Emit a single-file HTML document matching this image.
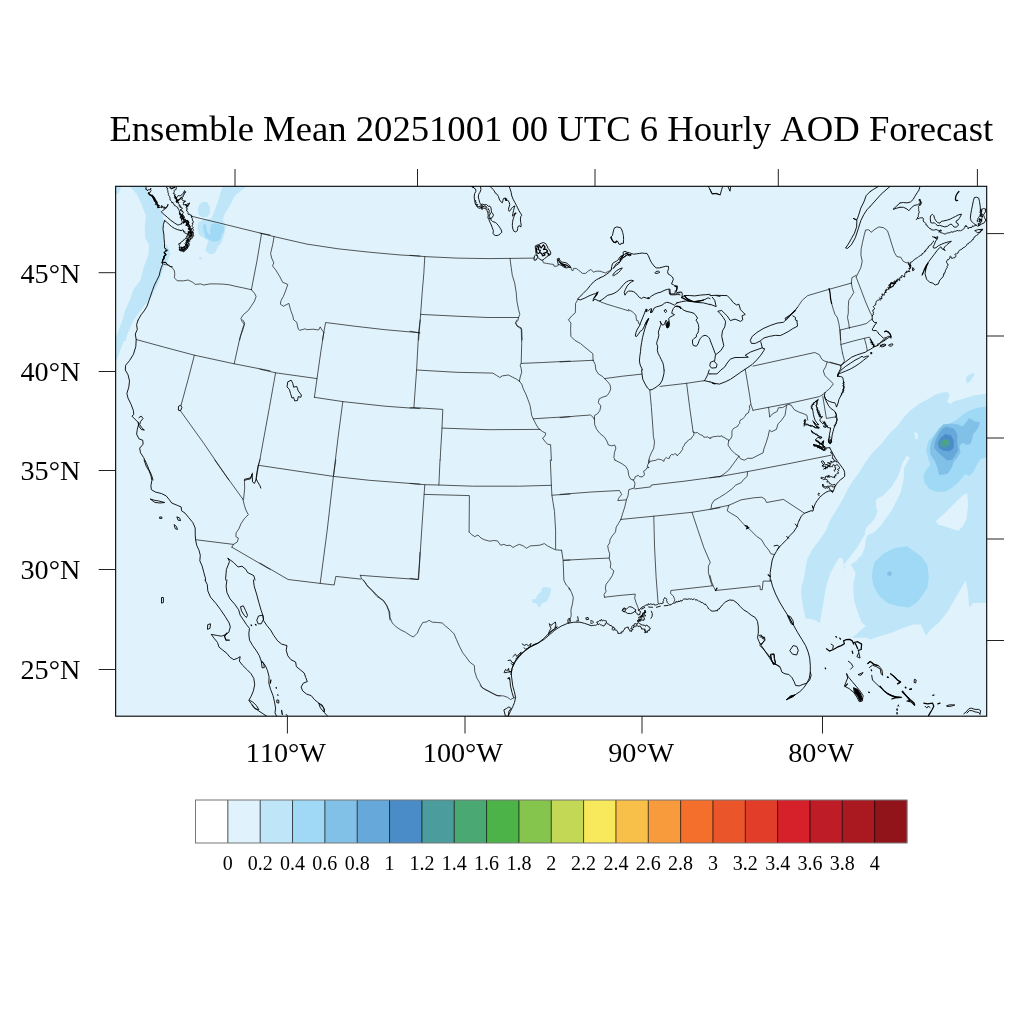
<!DOCTYPE html>
<html><head><meta charset="utf-8"><title>Ensemble Mean AOD Forecast</title>
<style>
html,body{margin:0;padding:0;background:#fff;}
body{width:1024px;height:1024px;overflow:hidden;font-family:"Liberation Serif",serif;}
svg{display:block;position:absolute;left:0;top:0;will-change:transform;}
text{font-family:"Liberation Serif",serif;fill:#000;font-kerning:none;font-variant-ligatures:none;}
.title{font-size:36.67px;}
.tl{font-size:28.2px;}
.cl{font-size:20px;text-anchor:middle;}
.tk line{stroke:#222;stroke-width:1;}
.st{fill:none;stroke:#111;stroke-width:0.7;stroke-linejoin:round;stroke-linecap:round;}
.co{fill:none;stroke:#000;stroke-width:0.9;stroke-linejoin:round;stroke-linecap:round;}
</style></head><body>
<svg width="1024" height="1024" viewBox="0 0 1024 1024">
<rect x="0" y="0" width="1024" height="1024" fill="#fff"/>
<text x="109.4" y="141.3" class="title">Ensemble Mean 20251001 00 UTC 6 Hourly AOD Forecast</text>
<defs><clipPath id="fr"><rect x="115.5" y="186" width="871.3" height="530.2"/></clipPath></defs>
<rect x="115.5" y="186" width="871.3" height="530.2" fill="#E0F3FC"/>
<g clip-path="url(#fr)">
<g id="aod">
<path d="M129.5,186.2 L136.6,194.1 L141.2,203.4 L145.9,215.9 L144.7,226.9 L145.2,237.8 L149.1,245.6 L148.3,255.0 L143.6,267.5 L140.5,280.0 L133.4,289.4 L130.3,298.8 L124.8,311.2 L121.7,323.8 L117.8,336.2 L117.0,340.9 L125.6,340.9 L127.2,334.7 L133.4,320.6 L143.6,306.6 L152.2,295.6 L158.4,283.1 L161.6,273.8 L164.7,265.2 L167.8,261.2 L170.2,253.4 L168.6,247.2 L164.7,242.5 L163.1,231.6 L163.9,220.6 L161.6,211.2 L155.3,203.4 L149.1,194.1 L145.9,186.2Z" fill="#BEE6F8"/>
<path d="M115.5,186.2 L120.2,186.2 L120.6,189.4 L118.6,193.3 L115.5,194.1Z" fill="#BEE6F8"/>
<path d="M199.1,205.0 L202.2,201.9 L206.9,201.9 L209.7,206.6 L210.0,212.8 L207.7,216.7 L203.0,217.5 L199.1,215.2 L197.8,210.5Z" fill="#BEE6F8"/>
<path d="M211.6,218.3 L217.8,201.9 L222.5,186.2 L246.7,186.2 L235.0,195.6 L230.3,205.0 L224.8,213.6 L222.8,219.8Z" fill="#BEE6F8"/>
<path d="M198.3,222.2 L203.8,219.8 L211.6,218.3 L222.8,219.8 L225.9,226.9 L224.1,234.7 L221.7,242.5 L217.8,247.2 L214.7,253.4 L210.0,254.2 L205.3,251.1 L206.9,245.6 L208.4,240.9 L203.8,237.8 L199.1,234.7 L197.2,228.4Z" fill="#BEE6F8"/>
<path d="M199.1,256.9 L201.4,256.9 L201.9,259.4 L199.4,259.7Z" fill="#BEE6F8"/>
<path d="M212.2,223.8 L215.4,223.6 L219.3,224.3 L223.7,226.2 L224.2,229.2 L223.7,232.1 L221.7,234.1 L221.2,237.5 L219.3,240.4 L215.4,241.4 L211.5,241.4 L208.6,238.9 L205.6,237.5 L204.6,234.1 L203.7,231.1 L203.1,228.2 L203.4,224.8 L205.6,224.1 L206.4,226.7 L206.6,230.2 L208.1,233.6 L209.5,234.8 L210.8,234.1 L210.0,231.1 L210.3,228.2 L211.0,225.3Z" fill="#9FD9F5"/>
<path d="M123.3,318.4 L132.7,318.4 L128.8,329.4 L124.1,340.3 L119.4,352.8 L116.6,360.6 L115.6,360.6 L115.6,338.8 L119.4,327.8Z" fill="#BEE6F8"/>
<path d="M542.2,587.7 L545.3,587.0 L550.8,588.1 L550.8,592.0 L549.2,596.7 L546.9,601.4 L541.4,603.4 L540.6,606.9 L538.3,606.9 L536.7,603.4 L532.4,602.6 L532.0,599.5 L535.9,598.7 L537.5,594.8 L541.4,591.6Z" fill="#BEE6F8"/>
<path d="M988.4,393.3 L973.4,395.4 L962.6,399.1 L954.0,401.2 L950.8,404.0 L947.1,401.9 L949.7,395.4 L948.2,392.2 L943.3,392.2 L934.7,394.8 L928.2,399.1 L919.6,403.4 L911.1,409.8 L904.6,416.3 L898.2,424.9 L889.6,433.5 L881.0,444.2 L872.4,452.8 L865.9,461.4 L859.5,472.1 L853.0,480.7 L847.7,489.3 L842.3,500.1 L835.9,510.8 L830.5,519.4 L826.2,530.2 L818.7,540.9 L812.2,549.5 L807.9,558.1 L988.4,558.1Z" fill="#BEE6F8"/>
<path d="M966.9,376.1 L973.4,372.5 L974.4,375.0 L970.1,381.5 L966.9,383.6 L965.8,379.3Z" fill="#BEE6F8"/>
<path d="M935.8,521.1 L943.3,514.7 L951.9,506.1 L962.6,495.4 L967.3,493.2 L968.0,506.1 L966.5,519.0 L962.6,526.5 L958.3,530.8 L951.9,528.7 L943.3,525.9 L937.9,524.4Z" fill="#E0F3FC"/>
<path d="M906.8,455.6 L910.0,457.8 L906.8,463.1 L904.2,467.4 L903.5,480.3 L900.3,493.2 L896.0,501.8 L891.7,510.4 L885.3,519.0 L881.0,525.4 L874.5,531.9 L868.1,535.1 L864.9,531.9 L870.2,525.4 L877.8,520.1 L879.9,513.6 L876.2,508.2 L876.0,499.6 L883.1,495.4 L891.7,486.8 L898.2,476.0 L902.5,463.1Z" fill="#E0F3FC"/>
<path d="M865.9,538.3 L864.9,546.9 L861.6,555.5 L855.2,566.2 L850.9,569.5 L846.6,569.5 L848.8,562.0 L853.0,553.4 L859.5,544.8 L862.7,538.3Z" fill="#E0F3FC"/>
<path d="M914.3,432.6 L917.5,433.0 L917.9,438.4 L915.4,439.5Z" fill="#E0F3FC"/>
<path d="M988.4,406.2 L977.7,407.7 L969.1,410.5 L962.6,414.8 L956.2,420.2 L949.7,423.4 L943.3,424.5 L939.0,428.8 L933.6,435.2 L928.2,441.6 L926.1,450.2 L928.2,458.8 L930.4,465.3 L926.1,469.6 L923.5,476.0 L924.4,482.5 L929.3,488.9 L936.8,492.1 L945.4,491.5 L951.9,487.8 L958.3,482.5 L962.6,477.1 L965.2,473.9 L969.1,476.0 L973.4,471.7 L976.6,465.3 L980.9,458.8 L988.4,457.1Z" fill="#9FD9F5"/>
<path d="M943.3,424.5 L951.9,423.4 L958.3,424.5 L962.6,426.6 L966.9,421.2 L969.1,418.0 L974.4,421.2 L980.2,422.3 L977.7,428.8 L973.4,434.1 L970.8,443.8 L966.9,444.9 L962.6,442.7 L959.4,445.9 L960.5,452.4 L957.2,457.8 L953.6,462.1 L951.9,467.4 L947.6,473.9 L939.0,474.9 L937.3,467.4 L934.7,461.0 L930.4,454.5 L930.0,448.1 L931.5,441.6 L935.8,434.1 L939.0,428.8Z" fill="#82C1E7"/>
<path d="M946.5,426.6 L954.0,428.8 L957.2,434.1 L957.2,442.7 L958.3,450.2 L955.1,455.6 L951.9,459.9 L947.1,460.5 L942.9,456.7 L937.9,452.4 L934.3,448.1 L935.1,441.6 L938.6,434.1 L942.2,428.8Z" fill="#67A8DB"/>
<path d="M945.4,434.1 L950.8,435.2 L953.6,440.6 L953.6,448.1 L949.7,451.3 L943.7,450.7 L939.0,448.1 L937.9,442.7 L940.7,437.8Z" fill="#4A8CC8"/>
<path d="M941.6,439.9 L946.5,439.1 L950.2,441.2 L949.7,444.9 L945.4,447.7 L940.7,447.0 L939.4,443.4Z" fill="#4B9C9C"/>
<path d="M944.4,439.9 L947.6,440.6 L948.0,443.4 L945.0,444.2 L943.3,442.5Z" fill="#4AA873"/>
<path d="M807.9,556.9 L806.2,564.5 L803.6,579.9 L801.5,585.9 L801.1,594.5 L803.2,607.4 L805.4,618.2 L815.4,619.9 L819.7,622.9 L821.9,611.7 L824.0,598.8 L826.2,585.9 L830.5,573.0 L836.3,562.3 L840.2,556.3 L842.7,559.1 L844.5,569.2 L850.9,564.5 L855.6,573.0 L853.0,585.9 L854.1,601.0 L858.4,613.9 L861.6,622.5 L865.9,625.7 L852.0,637.9 L865.9,637.5 L870.2,639.6 L878.8,636.4 L893.9,632.1 L900.3,628.9 L913.2,624.6 L920.7,624.6 L926.1,635.4 L930.4,630.0 L939.0,622.5 L947.6,611.7 L956.2,596.7 L962.6,585.9 L965.8,580.6 L968.0,592.4 L969.1,607.4 L973.4,603.1 L977.7,603.1 L988.4,602.7 L988.4,556.3Z" fill="#BEE6F8"/>
<path d="M876.7,498.9 L897.1,498.9 L887.4,512.9 L881.0,521.5 L874.5,527.9 L868.1,534.4 L864.9,540.8 L862.7,549.4 L857.3,560.2 L850.9,564.5 L845.5,569.2 L844.0,564.5 L850.9,555.9 L857.3,547.3 L861.6,539.7 L864.9,534.4 L865.9,527.9 L874.5,519.3 L877.8,510.7Z" fill="#E0F3FC"/>
<path d="M872.4,570.9 L874.5,562.3 L883.1,553.7 L893.9,548.3 L906.8,546.2 L914.3,551.6 L921.8,556.9 L927.2,564.5 L928.9,577.3 L927.2,588.1 L922.9,594.5 L917.5,602.1 L908.9,607.4 L898.2,606.3 L887.4,603.1 L878.8,595.6 L873.5,585.9 L872.0,577.3Z" fill="#9FD9F5"/>
<path d="M887.4,572.0 L890.6,570.9 L892.1,574.1 L890.0,576.3 L887.4,575.2Z" fill="#82C1E7"/>
</g>
<g id="states" class="st">
<path d="M191.2,216.2 219.4,223.0 242.8,228.8 261.6,233.4 270.0,235.0"/>
<path d="M261.6,233.4 256.9,261.2 251.4,289.7"/>
<path d="M163.9,264.4 168.6,265.2 171.7,267.5 174.1,269.8 174.8,273.8 174.4,277.7 177.2,280.8 183.4,280.8 188.1,280.0 192.8,282.3 195.2,284.4 200.6,283.9 203.8,285.0 210.0,283.9 216.2,283.9 222.5,284.1 228.8,284.7 235.0,286.2 242.8,287.8 251.4,289.7"/>
<path d="M251.4,289.7 254.5,293.3 256.1,296.4 254.5,301.1 251.4,305.8 248.3,310.5 243.6,314.4 240.9,318.3 242.0,321.4 244.4,324.5 242.8,330.0 240.5,336.2 239.7,340.0"/>
<path d="M260.0,233.1 274.1,236.6 306.9,244.1 338.1,248.8 369.4,252.2 400.6,255.0 420.0,256.1"/>
<path d="M274.1,236.6 272.8,244.1 270.6,253.4 271.7,258.1 273.8,262.8 272.5,265.9 275.6,269.8 279.5,276.1 282.7,282.3 287.8,284.4 285.8,290.2 283.4,296.4 281.1,300.3 280.3,304.2 283.4,306.2 288.9,303.4 290.5,309.7 292.8,315.9 293.6,319.8 296.7,322.2 298.3,329.2 299.8,330.3 305.3,328.8 306.9,329.7 313.1,329.2 318.6,330.0 320.2,326.9 322.5,330.8 323.8,332.3"/>
<path d="M420.0,332.8 385.0,329.7 353.8,326.1 325.6,322.5 323.8,332.3 322.5,340.0"/>
<path d="M410.0,255.3 424.8,256.6 456.9,258.1 488.1,258.6 510.0,258.4 534.2,258.1"/>
<path d="M424.8,256.6 423.8,273.8 422.2,292.5 420.6,314.4 419.4,330.0 418.6,340.0"/>
<path d="M420.6,314.4 456.9,316.2 488.1,317.5 518.6,317.5"/>
<path d="M510.0,258.4 511.2,267.5 512.3,275.3 514.7,283.1 516.2,292.5 517.0,301.9 518.6,309.7 519.8,314.4 518.6,317.5 517.8,320.6 515.5,323.0 517.0,326.1 519.4,327.7 521.7,329.2 522.2,340.0"/>
<path d="M410.0,331.2 418.9,332.8"/>
<path d="M600.6,271.4 605.3,273.0 610.0,270.6 611.9,269.1"/>
<path d="M600.0,301.1 600.6,301.9 606.9,304.2 614.7,306.6 622.5,308.9 628.8,310.9"/>
<path d="M577.5,300.0 575.6,303.4 575.3,312.8 571.7,315.9 568.6,319.8"/>
<path d="M797.5,307.3 802.2,300.3 807.7,295.6 828.8,289.4 851.4,283.1"/>
<path d="M831.6,303.4 833.4,309.7 835.0,314.4 837.3,317.5 838.9,323.8 840.0,330.8 840.5,340.0"/>
<path d="M851.4,283.1 852.2,287.8 853.8,292.5 851.4,296.4 848.8,300.3 848.3,306.6 848.3,312.8 847.5,317.5 848.8,323.8 849.4,328.4"/>
<path d="M851.4,283.1 851.9,277.7 856.1,275.3"/>
<path d="M856.2,276.9 858.6,272.2 860.9,267.5 862.2,261.2 860.9,255.0 861.2,248.8 862.5,242.5 864.1,235.5 865.6,230.0 868.8,229.7 871.1,232.3 875.0,229.2 878.9,226.9 883.6,227.7 887.5,230.8 889.8,237.8 892.2,245.6 894.5,252.7 896.9,256.6 900.8,257.3 903.1,261.2 906.2,262.8 908.6,262.0 910.2,265.2"/>
<path d="M856.2,277.2 860.9,289.4 865.6,301.9 870.3,312.8 872.0,315.6"/>
<path d="M136.2,339.5 164.7,347.3 194.4,355.2 234.2,363.8 270.0,370.8"/>
<path d="M194.4,355.2 188.1,379.4 181.1,405.2"/>
<path d="M180.3,410.6 203.8,443.4 228.8,480.0"/>
<path d="M242.8,320.0 244.7,323.1 242.8,327.8 239.7,338.8 234.2,363.8"/>
<path d="M260.0,459.1 258.4,465.3 256.1,480.0"/>
<path d="M323.8,332.5 320.9,351.2 317.0,378.6 314.4,397.3"/>
<path d="M260.0,369.2 275.6,372.8 317.0,378.6"/>
<path d="M275.6,372.8 269.4,407.5 263.1,441.9 260.0,459.1"/>
<path d="M314.4,397.3 342.8,401.6 385.0,406.2 413.9,408.3 420.0,408.6"/>
<path d="M342.8,401.6 338.1,437.2 333.4,476.2"/>
<path d="M420.2,320.0 418.6,332.5 416.6,370.0 413.9,407.5"/>
<path d="M416.6,370.0 456.9,372.3 492.8,373.1 496.7,375.5 499.8,377.5 502.2,375.9 508.4,375.0 512.3,377.0 517.0,379.4 519.4,381.2"/>
<path d="M517.0,320.0 515.5,322.8 517.8,326.2 521.2,327.8 521.7,343.4 521.2,363.4 520.2,365.3 521.2,368.4 521.7,372.3 520.2,377.0 519.4,381.2"/>
<path d="M521.2,363.4 542.8,362.5 570.0,361.1"/>
<path d="M519.4,381.2 521.7,384.1 523.3,388.8 525.9,394.2 528.0,399.7 530.0,405.2 531.1,411.4 531.6,415.3 533.4,419.2 535.8,423.9 538.1,427.8 539.7,429.4"/>
<path d="M533.4,418.8 550.6,417.7 570.0,416.6"/>
<path d="M442.0,428.1 488.1,429.7 539.7,429.4"/>
<path d="M539.7,429.4 542.8,431.7 545.9,433.3 544.7,436.4 542.5,438.0 544.7,441.1 547.5,444.2 550.6,444.7 551.4,460.6"/>
<path d="M410.0,407.8 413.9,407.5 442.8,409.4 442.0,428.1 440.5,452.8 440.2,460.0"/>
<path d="M568.6,320.0 570.9,323.1 570.6,329.4 570.9,336.4 574.8,340.3 580.3,343.4 585.0,347.3 588.9,350.5 592.8,353.6 593.1,360.3"/>
<path d="M560.0,361.9 593.1,360.3"/>
<path d="M593.1,360.3 595.2,364.5 595.9,370.0 598.3,373.9 602.2,376.2 604.5,378.6 607.7,381.7 610.0,384.8 610.8,388.8 609.2,392.7 606.9,395.8 602.2,397.3 599.1,398.9 598.3,402.8 600.9,405.9 599.8,410.6 597.5,413.8 594.7,415.3 594.4,419.2"/>
<path d="M604.5,378.6 622.5,376.2 642.0,374.1"/>
<path d="M560.0,417.7 575.6,416.1 590.5,415.0 592.8,416.9 594.4,419.2"/>
<path d="M594.4,419.2 594.7,424.7 596.7,429.4 599.8,433.3 604.5,437.2 606.9,441.1 608.4,445.0 611.6,445.8 614.7,445.0 615.9,448.1 614.4,452.8 613.9,457.5 615.0,460.0"/>
<path d="M649.8,390.0 651.4,407.5 653.0,429.4 653.4,436.4 654.5,441.9 653.8,448.1 651.4,452.8 649.4,457.5 648.8,463.0"/>
<path d="M660.0,386.4 686.6,383.3 704.5,380.6"/>
<path d="M686.6,383.3 689.7,407.5 693.1,431.7"/>
<path d="M648.8,463.0 649.8,461.4 651.8,461.0 653.8,460.6 655.9,460.3 657.7,459.1 659.6,459.4 661.6,459.8 663.9,461.4 664.4,459.1 666.2,457.5 667.7,458.4 669.4,458.3 670.0,456.0 671.7,454.4 673.5,454.8 674.8,453.6 676.4,454.4 677.2,455.9 678.5,454.2 680.3,452.8 681.3,451.1 682.6,449.5 682.7,447.3 684.1,445.6 685.0,443.4 686.5,442.6 687.3,441.1 689.2,439.7 691.2,438.8 692.1,436.9 693.6,435.6 694.0,433.6 693.1,431.7 695.2,432.8 697.5,432.5 698.9,433.9 700.6,434.8 702.6,435.4 703.8,437.2 705.7,437.2 707.7,436.9 709.1,437.9 710.8,438.4"/>
<path d="M753.0,366.1 814.7,352.5 819.4,354.7 821.7,359.1 824.1,360.9 827.2,361.9 840.5,365.3"/>
<path d="M745.2,369.2 747.5,382.5 749.8,396.6 750.9,404.4 753.0,410.3"/>
<path d="M753.0,410.3 788.1,403.6 819.4,396.6 822.8,394.7"/>
<path d="M750.9,404.4 749.2,406.0 749.8,408.3 749.0,410.6 748.3,413.0 746.2,414.0 745.2,416.2 743.6,417.7 742.4,419.1 740.6,419.8 739.7,421.6 739.7,423.4 738.4,424.7 737.8,426.2 735.6,427.4 733.4,428.6 732.0,430.7 731.9,433.3 732.0,435.7 731.1,438.0 730.2,439.4 728.8,440.3"/>
<path d="M768.6,407.5 769.7,417.2 772.5,413.8 777.2,411.4 778.4,407.8 782.7,407.5 786.6,405.2 788.9,404.4 791.2,405.2 794.4,409.8 799.1,412.2 803.8,413.8 806.9,415.3 807.7,420.0"/>
<path d="M786.6,405.2 785.8,410.3 785.0,415.3 781.1,420.8 778.0,423.9 776.4,429.4 771.7,431.7 769.4,430.2 768.1,436.4 765.9,443.4 763.9,448.9 763.1,452.8 756.9,455.9 752.2,458.3 747.5,458.3 744.4,460.2 740.5,458.8 738.9,456.2"/>
<path d="M728.8,440.3 728.0,445.0 731.1,449.7 735.0,453.6 738.9,456.2"/>
<path d="M738.9,456.2 733.4,463.8 728.8,470.0 724.1,473.9 719.4,477.0"/>
<path d="M710.0,477.8 719.4,476.6 747.5,471.6 788.1,463.8 831.1,455.2"/>
<path d="M710.0,438.0 712.0,437.1 714.1,436.6 716.2,436.4 718.1,436.1 720.0,436.5 721.7,435.6 722.7,437.1 724.6,437.3 725.6,438.8 727.4,439.2 728.8,440.3"/>
<path d="M827.2,361.9 825.6,366.9 823.3,370.8 824.8,375.5 828.8,379.4 833.4,383.8 829.5,388.8 825.6,391.9 822.8,394.7"/>
<path d="M822.8,396.6 826.4,418.4 835.8,416.9"/>
<path d="M849.5,327.7 861.2,325.0 866.7,323.4 869.8,320.7 872.2,319.1"/>
<path d="M840.9,344.5 853.4,341.0 864.4,338.3 869.5,337.1 870.6,339.1"/>
<path d="M864.4,338.3 866.3,345.3 867.3,350.8"/>
<path d="M842.5,353.1 844.5,360.9 842.9,363.3 840.9,365.2"/>
<path d="M830.0,362.1 840.5,365.2"/>
<path d="M214.7,460.0 242.8,499.1"/>
<path d="M242.8,499.1 244.4,505.3 245.9,510.0 248.3,514.7 244.4,518.6 241.2,523.3 238.9,528.8 236.2,532.7 235.8,536.6 238.4,538.1 237.3,542.0 233.4,544.4 231.9,547.2"/>
<path d="M260.0,460.0 258.4,465.0"/>
<path d="M244.4,480.3 244.7,488.1 243.6,499.1"/>
<path d="M195.6,539.7 233.4,544.4"/>
<path d="M231.9,547.2 270.0,569.4"/>
<path d="M258.4,465.2 260.0,465.5 291.2,470.2 333.4,476.4 369.4,480.3 420.0,484.2"/>
<path d="M335.8,460.0 333.4,476.4 327.2,530.3 320.2,583.4"/>
<path d="M260.0,563.1 288.1,579.5 320.2,583.4 334.2,585.0 335.8,576.4 360.8,579.1"/>
<path d="M360.3,575.3 385.0,577.2 418.6,579.5 420.0,552.2"/>
<path d="M360.3,575.3 361.6,578.8 365.5,582.7 367.0,585.8 372.5,591.2 377.2,596.7 383.4,600.6 386.6,605.3 388.9,611.6 390.0,620.0"/>
<path d="M440.0,460.0 438.9,485.0"/>
<path d="M410.0,483.4 424.8,484.7 438.9,485.0 472.5,486.2 519.4,486.2 551.4,485.3"/>
<path d="M550.3,460.0 551.4,485.3 551.9,495.2 554.5,511.6 555.6,530.3 555.6,549.1"/>
<path d="M551.9,495.2 570.0,494.1"/>
<path d="M424.8,484.7 424.1,494.4 469.4,495.6 469.1,531.9"/>
<path d="M424.1,494.4 421.7,530.3 419.7,561.6 418.1,579.5 410.0,578.4"/>
<path d="M469.1,531.9 471.7,534.7 474.8,536.6 478.0,535.0 481.1,538.1 484.2,539.7 489.7,541.2 493.6,540.5 497.5,540.9 500.6,545.2 503.8,544.4 506.9,545.6 510.0,545.2 513.1,547.5 516.2,545.6 519.4,544.4 523.3,545.9 526.4,548.3 530.3,545.9 535.0,545.6 539.7,545.2 544.4,543.6 547.5,545.9 552.2,548.3 555.6,549.8 561.6,550.3"/>
<path d="M561.6,550.3 563.1,560.0 563.9,580.3 566.2,585.0 568.6,587.3 569.4,589.7"/>
<path d="M563.4,560.3 570.0,560.0"/>
<path d="M614.7,460.0 620.9,463.1 625.6,466.2 628.0,470.2 628.8,475.6 630.6,479.1 633.4,480.0"/>
<path d="M648.8,460.0 648.9,462.5 647.8,464.7 647.1,466.7 649.1,467.5 646.9,467.8 645.9,469.7 643.6,471.2 644.1,473.0 644.4,474.8 643.4,476.1 642.0,476.9 639.8,476.7 638.1,475.3 636.6,476.2 635.0,476.9 634.7,478.7 633.4,480.0"/>
<path d="M633.4,480.0 635.0,483.4 634.2,488.1 631.1,488.9 628.8,489.7 628.0,495.9 626.4,499.8 624.8,506.9 622.5,513.9 620.9,519.4"/>
<path d="M634.7,488.9 650.6,486.9 651.4,485.0 685.0,481.1 720.0,476.4"/>
<path d="M560.0,494.4 591.2,492.0 619.4,490.5 621.7,494.4 618.6,498.3 617.8,500.6 626.4,499.8"/>
<path d="M620.9,519.4 653.8,516.2 692.0,512.3 720.0,507.7"/>
<path d="M620.9,519.4 618.6,523.3 616.2,527.2 615.5,531.9 612.3,535.8 610.0,539.7 609.7,542.8 607.7,545.9 608.4,549.8 609.7,553.8 609.2,558.4 610.8,563.1 610.3,567.8 613.9,570.9 612.3,575.6 609.2,580.3 606.1,584.2 605.3,588.1 606.1,591.2 604.1,594.4 604.5,597.2"/>
<path d="M563.9,560.3 591.2,558.8 609.2,558.1"/>
<path d="M569.4,588.1 571.7,592.8 573.3,597.5 572.5,603.8 570.9,610.0 571.2,616.2 569.4,620.0 570.3,621.2"/>
<path d="M604.5,597.2 622.5,595.2 635.3,594.1 634.7,598.3 636.2,603.0 638.1,607.7 638.9,610.0"/>
<path d="M653.8,516.2 654.5,545.9 656.1,577.2 658.1,603.0"/>
<path d="M692.0,512.3 697.5,528.8 703.8,547.5 709.2,560.0 710.3,562.3 708.4,566.2 708.4,572.5 710.8,581.9 712.3,585.8"/>
<path d="M712.3,585.8 670.9,590.5 670.6,593.6 673.3,595.9 674.8,599.8 673.8,602.2"/>
<path d="M747.5,471.7 747.2,476.4 743.6,479.5 741.2,482.7 735.8,485.0 731.9,488.9 725.6,493.6 719.4,497.5 713.9,500.6 711.6,504.5 711.2,507.7"/>
<path d="M710.0,509.2 728.8,505.3 741.2,499.8 753.8,497.8 761.6,497.2 764.7,498.8 766.6,502.5 783.4,499.4 803.8,512.8"/>
<path d="M728.8,505.3 727.2,510.8 731.9,513.9 737.3,517.0 741.2,521.7 745.2,525.6 748.3,528.0 752.2,531.9 756.9,536.6 761.6,539.7 764.7,545.2 768.6,549.8 770.9,553.8 774.1,554.5"/>
<path d="M710.0,575.6 711.6,581.9 713.9,587.3 715.5,590.5 760.0,585.8 760.3,589.7 762.3,589.7 763.1,581.1 770.2,581.1"/>
<path d="M363.4,580.0 366.6,584.7 371.2,589.4 377.5,595.6 383.8,601.1 386.9,605.8 389.7,612.0 390.0,617.5 392.3,623.0 396.2,626.9 400.9,630.0 405.6,632.3 410.3,635.5 413.4,637.0 417.3,633.1 419.7,627.7 422.8,622.5 426.7,621.9 429.1,620.3 432.2,622.2 437.7,622.5 442.3,623.0 445.5,626.1 449.4,629.2 454.1,633.9 456.4,639.4 459.5,646.4 462.7,652.7 465.8,656.6 469.7,662.0 474.4,665.6 474.7,671.4 476.7,677.7 479.8,683.1 482.2,687.8 488.4,690.9 493.9,694.1 497.0,695.6 500.0,695.9"/>
<path d="M480.0,685.5 484.7,689.4 490.9,692.5 497.2,695.6 503.4,695.9 507.3,697.2 510.5,699.5 513.6,698.0 515.2,697.5"/>
<path d="M542.7,260.5 543.4,262.8 546.6,263.4 550.1,264.0 553.6,264.4 554.0,266.3 557.5,266.1 558.3,264.4"/>
<path d="M570.8,267.5 571.6,270.2 573.1,270.6 573.5,268.4 576.2,268.4 578.6,270.2 582.5,273.4 585.6,273.4 588.8,270.6 591.1,269.5 593.4,272.2 596.2,271.2 600.0,271.2"/>
<path d="M628.4,309.5 630.0,310.5 632.3,311.5 633.9,313.4 635.9,315.0 636.2,318.1 636.6,320.5 638.2,320.9 638.6,323.6 640.2,324.4"/>
</g>
<g id="coast" class="co">
<path d="M716.2,295.6 720.0,296.4"/>
<path d="M712.3,297.2 714.7,300.3 716.2,306.6 710.0,304.2"/>
<path d="M708.4,186.6 710.8,190.9 712.3,194.1 716.2,193.3 720.0,194.8"/>
<path d="M710.0,189.4 711.6,193.3 716.2,193.8 720.2,194.8 721.7,189.4 722.5,187.0"/>
<path d="M728.0,186.6 730.0,191.2 730.6,187.0"/>
<path d="M870.0,191.7 866.2,195.6 863.9,201.9 860.8,208.1 858.4,215.9 856.9,219.8 853.0,218.3 856.9,220.3 856.6,226.9 854.5,233.1 851.4,238.6 848.3,244.1 845.6,248.0 847.5,248.4 851.4,244.8 855.3,237.8 858.4,228.4 860.8,220.6 863.9,214.4 867.0,209.7 870.0,206.6"/>
<path d="M710.0,295.6 716.2,295.3 727.2,295.6 730.3,298.8 733.4,302.7 736.6,305.0 738.9,304.2 740.5,309.7 745.2,314.4 742.0,315.9 742.8,319.8 740.5,321.4 735.0,319.1 730.3,320.6 727.2,315.9 724.8,313.6 721.7,310.5 717.8,311.2 720.2,313.6 723.3,317.5 725.6,321.4 724.8,326.9 722.5,330.8 721.7,336.2 722.5,340.0"/>
<path d="M785.8,320.0 785.0,318.3 789.7,315.2 794.4,311.2 797.5,307.3"/>
<path d="M796.9,320.6 795.2,319.8 795.6,317.5 792.8,315.9"/>
<path d="M829.1,288.6 830.0,292.5 830.6,298.8 831.6,303.4" stroke-width="1.25"/>
<path d="M786.6,319.1 791.2,314.4 795.2,310.5" stroke-width="1.25"/>
<path d="M878.1,186.6 873.4,189.4 870.0,191.7"/>
<path d="M889.8,186.6 881.2,194.1 870.0,206.6"/>
<path d="M910.2,265.2 911.3,265.9 909.7,266.7 910.2,267.5 910.3,268.5 908.8,268.5 909.5,269.7 908.8,270.3 909.9,271.7 907.8,271.4 906.5,271.0 907.0,272.9 905.5,272.3 905.2,273.2 904.7,273.8 904.9,275.0 904.5,275.7 904.8,277.0 901.6,275.5 901.0,276.1 901.6,277.7 900.8,277.8 899.8,277.6 899.5,278.6 899.8,280.6 897.8,278.7 897.7,280.0 897.7,281.1 897.2,281.6 896.1,281.6 894.4,280.9 895.8,283.4 894.5,283.1 894.0,281.8 893.0,282.6 892.2,282.6 891.4,282.3 890.9,282.9 890.7,283.7 889.8,284.0 890.0,285.0 888.6,285.1 889.1,286.2 890.6,288.0 887.8,287.6 889.1,289.2 887.5,289.4 886.0,289.2 886.8,290.9 885.0,290.6 886.2,292.6 884.6,292.4 884.4,293.3 884.3,294.3 884.3,295.2 881.9,293.9 882.7,295.8 882.1,296.2 881.2,296.4 882.1,298.7 881.0,298.6 879.4,298.0"/>
<path d="M896.9,280.0 894.5,283.9 890.9,283.1 889.8,287.8 893.0,286.2 895.3,282.3" stroke-width="1.25"/>
<path d="M900.0,203.0 896.9,205.8 893.0,209.4 896.9,208.1 900.0,207.3"/>
<path d="M922.3,274.1 922.2,275.3 924.2,270.6 926.6,265.2 925.0,273.8 926.6,279.2 929.7,282.3 932.8,283.1 935.2,285.0 938.3,283.9 939.8,280.0 943.0,276.9 943.9,274.1"/>
<path d="M138.1,320.0 136.6,324.7 137.3,329.4 135.3,334.1 136.2,339.5 135.8,346.6 133.4,354.4 129.5,360.6 125.6,365.3 125.3,370.0 128.0,374.7 129.5,380.9 128.8,387.2 126.9,393.4 128.0,398.1 131.1,404.4 133.4,410.6 133.8,414.5 131.9,416.1 135.8,420.0 138.9,423.1 137.3,429.4 136.6,434.1 138.9,438.8 142.8,440.3 143.1,444.2 139.7,448.1 140.5,452.8 143.6,457.5 146.7,463.8 149.1,470.0 151.4,474.7 153.0,480.0"/>
<path d="M138.9,417.7 141.2,416.1 143.1,418.4 140.5,421.6 139.7,424.7 142.0,427.8 144.4,430.2 141.2,429.4 138.9,426.2 138.1,422.3"/>
<path d="M178.8,406.2 180.6,405.2 181.9,407.5 180.6,410.6 178.8,410.3Z"/>
<path d="M244.4,479.4 250.6,477.8 252.5,473.1"/>
<path d="M288.1,381.7 291.2,380.2 292.8,383.3 293.6,387.2 296.7,386.4 298.3,391.1 301.4,395.0 300.9,397.3 298.3,396.6 297.5,400.5 294.7,400.9 293.6,397.3 292.0,398.1 290.5,393.4 289.4,389.5 287.3,387.2Z"/>
<path d="M641.6,370.0 642.0,374.1 642.8,379.4 645.2,384.1 647.5,388.0 649.8,390.0 652.2,389.5 656.1,387.2 660.0,384.1 662.3,380.2 663.9,373.9 664.2,370.0"/>
<path d="M709.2,370.0 707.7,374.7 705.3,379.4 704.1,380.9"/>
<path d="M709.2,373.9 710.0,373.9"/>
<path d="M704.5,380.6 710.0,382.0"/>
<path d="M722.5,340.0 723.8,345.8 720.9,350.5 716.2,354.4"/>
<path d="M710.0,340.0 712.3,345.8 715.5,354.4 714.7,360.6"/>
<path d="M710.8,362.2 713.9,360.9 717.0,364.5 716.2,367.7 711.6,368.1 710.0,366.1Z"/>
<path d="M710.0,373.9 717.0,373.9 720.9,370.0 724.8,366.9 727.2,363.0 730.3,359.1 735.0,357.5 741.2,357.5 748.3,357.2 745.2,355.2 750.6,352.0 756.9,349.7 762.3,347.8 764.4,348.9"/>
<path d="M710.0,381.7 713.9,383.3 719.4,384.1 725.6,381.7 730.3,379.4 735.0,376.2 740.5,372.3 745.2,369.2 752.2,364.5 756.9,359.8 760.8,355.2 763.9,350.5 764.4,348.9"/>
<path d="M785.8,320.0 783.4,322.3 777.2,323.1 770.2,325.5 763.1,328.6 756.9,332.5 752.2,336.4 750.3,340.3 751.4,343.4 755.3,343.4 760.0,341.1 763.9,338.0 769.4,336.4 775.6,335.3 780.3,335.6 783.4,334.1 788.1,331.7 792.8,328.6 797.5,326.2 796.9,320.6"/>
<path d="M760.8,341.9 762.3,347.8"/>
<path d="M712.3,382.8 715.0,383.8" stroke-width="1.25"/>
<path d="M840.0,330.1 840.5,336.7 840.9,344.5 842.5,353.1" stroke-width="0.7" stroke="#111"/>
<path d="M840.0,330.1 849.5,327.7" stroke-width="0.7" stroke="#111"/>
<path d="M880.8,300.0 879.7,299.6 878.8,300.2 877.7,299.9 876.9,300.8 876.3,301.5 876.2,302.3 875.7,303.0 875.7,303.9 875.8,304.8 874.6,305.3 873.9,305.9 873.3,306.6 874.1,307.8 874.7,308.8 873.9,309.5 872.8,310.0 872.9,310.9 873.0,311.7 873.7,312.9 873.1,313.8 873.3,314.8 872.2,315.6"/>
<path d="M872.2,315.6 872.2,319.1 873.0,321.1 874.9,322.7 876.5,322.3 876.1,323.8 874.5,325.0 873.8,327.0 872.6,328.5 872.3,330.1 873.8,330.6 876.1,330.5 877.7,332.0 878.8,334.0 880.8,335.5 882.3,337.1 883.5,338.3 886.2,337.5 888.6,336.3 889.8,336.7 890.9,338.3 891.1,336.7 890.5,334.4 889.4,332.8 887.8,331.6 885.9,331.1 884.7,331.6"/>
<path d="M889.8,336.7 887.8,338.3 885.5,339.8 883.1,341.4 880.8,342.6 878.4,344.9 876.1,346.1 874.1,346.9 870.6,349.2 867.3,350.8 865.2,352.3 861.2,353.5 856.6,355.1 851.9,357.0 845.6,361.7 840.9,365.6"/>
<path d="M870.2,339.5 871.4,340.6 871.0,342.6 872.6,342.2 872.2,344.5 873.8,344.1 873.4,346.5 874.9,346.1" stroke-width="1.25"/>
<path d="M837.8,376.2 838.6,373.4 840.9,370.3 845.6,366.4 850.3,363.3 855.0,360.2 859.7,357.8 862.0,356.2 863.6,357.4 866.7,356.2 868.7,356.1 866.7,357.8 863.6,360.2 859.7,363.3 855.0,366.4 850.3,369.1 845.6,371.1 841.7,372.7 839.0,373.8Z"/>
<path d="M880.8,345.7 882.3,344.5 884.7,344.1 885.9,344.9 884.7,346.1 882.3,346.9Z"/>
<path d="M889.0,344.9 890.9,344.1 892.5,343.8 892.9,344.9 891.3,346.1 889.8,346.1Z"/>
<path d="M871.0,352.5 871.8,352.5 871.8,353.8 871.0,353.8Z" fill="#000"/>
<path d="M840.9,365.6 840.9,368.0 839.4,371.1 837.4,375.0 837.8,376.2"/>
<path d="M144.1,460.0 146.2,466.2 149.1,470.9 150.9,475.6 151.9,480.3 150.9,485.8 151.4,489.7 155.3,492.0 161.6,493.6 166.2,495.9 169.4,499.8 171.7,503.0 177.2,505.3 181.1,506.9 181.6,510.8 185.0,513.1 188.9,517.8 192.8,522.5 195.2,528.0 195.2,534.2 195.6,539.7 196.7,545.2 199.1,550.6 200.3,555.3 199.8,560.8 202.2,566.2 203.8,572.5 205.6,578.8 205.5,580.3"/>
<path d="M150.6,499.1 154.5,500.3 158.4,500.9 164.7,502.5 160.0,503.0 155.3,502.5Z"/>
<path d="M160.0,517.0 161.9,517.0 161.9,518.4 160.0,518.4Z"/>
<path d="M177.2,517.0 179.5,517.8 180.6,520.6 178.4,520.2Z"/>
<path d="M174.4,524.8 176.4,526.4 177.5,529.5 175.6,528.8Z"/>
<path d="M161.9,597.5 163.4,597.5 163.4,602.5 161.9,603.0Z"/>
<path d="M258.4,465.0 256.9,472.5 256.1,478.8 257.7,481.9 260.0,485.8 260.8,488.1"/>
<path d="M244.4,480.3 247.5,479.5 250.6,478.8 252.2,474.1 252.5,481.9 254.5,483.4 256.1,479.5"/>
<path d="M228.0,558.4 229.5,561.6 226.4,569.4 225.6,578.8 225.8,580.0"/>
<path d="M228.0,558.4 233.4,562.3 238.1,567.0 242.0,566.2 245.9,569.4 247.5,572.5 253.8,575.6 255.0,580.0"/>
<path d="M205.0,580.0 207.3,584.7 207.8,590.9 210.5,597.2 215.9,603.4 220.6,609.7 225.3,616.7 229.2,623.0 230.3,626.9 228.8,632.3 225.3,634.7 221.4,636.2 217.5,635.5 211.2,634.4 214.4,638.6 217.5,642.5 219.1,647.2 223.0,650.3 226.9,653.4 230.0,657.3 233.9,659.7 237.8,658.1 240.2,656.6 239.4,661.2 242.5,665.2 247.2,669.8 251.1,673.8 253.8,678.4 254.7,684.7 253.4,690.9 251.1,696.4 248.8,700.3 251.1,703.4 254.2,707.3 258.1,710.5 262.8,713.6 266.7,716.2"/>
<path d="M226.9,633.1 224.5,636.2 226.1,640.2 229.2,640.2" stroke-width="1.25"/>
<path d="M208.1,624.5 210.5,623.8 210.0,628.4 207.8,629.2Z"/>
<path d="M226.9,580.0 226.1,586.2 226.9,592.5 230.0,598.8 234.7,604.2 238.6,609.7 240.2,615.2 243.3,619.8 246.4,624.5 249.5,628.4 248.8,633.9 249.5,640.2 252.7,645.6 256.6,651.1 259.4,655.8 261.2,661.2 265.2,665.2 267.5,670.6 269.1,676.9 268.8,683.1 270.6,689.4 273.0,695.6 274.5,701.9 275.6,708.1 275.0,712.8 276.6,716.2"/>
<path d="M253.4,580.0 254.2,586.2 256.6,594.1 258.9,602.7 261.2,610.5 262.8,615.2 263.6,620.6 266.7,625.3 270.6,630.0 273.8,635.5 277.7,640.9 281.6,644.1 287.0,645.6 286.2,650.3 287.8,655.8 290.9,659.7 295.6,662.0 296.4,666.7 300.3,669.8 304.2,673.0 305.8,677.7 307.3,681.6 303.4,683.1 301.1,687.0 302.7,690.9 306.6,694.1 311.2,695.6 314.4,699.5 319.1,703.4 323.8,708.1 324.5,712.8 327.7,716.2"/>
<path d="M240.9,606.6 243.3,605.8 245.6,610.5 247.5,615.2 246.4,617.5 244.1,615.2 241.7,611.2Z"/>
<path d="M258.9,615.9 262.8,615.2 263.6,619.1 261.2,623.8 258.1,623.8 256.9,620.6Z"/>
<path d="M261.6,661.2 263.6,662.8 264.4,667.5 262.5,667.8Z"/>
<path d="M251.1,625.0 251.6,625.6" stroke-width="1.25"/>
<path d="M255.5,624.5 256.1,625.0" stroke-width="1.25"/>
<path d="M270.9,680.0 270.3,683.1" stroke-width="1.25"/>
<path d="M276.1,687.5 276.4,688.1" stroke-width="1.25"/>
<path d="M277.7,694.8 278.0,695.3" stroke-width="1.25"/>
<path d="M277.2,700.0 278.8,700.3 278.8,703.1 277.2,702.7Z"/>
<path d="M281.6,710.5 282.3,714.4" stroke-width="1.25"/>
<path d="M249.5,700.3 252.7,701.9 256.6,705.8 258.9,709.7 255.0,708.9 251.9,705.0"/>
<path d="M319.1,703.4 322.2,705.0 324.5,709.7 323.8,712.0 320.6,708.1Z"/>
<path d="M286.2,714.4 287.8,716.2"/>
<path d="M508.1,716.2 510.5,711.2 512.8,706.6 514.4,702.7 515.6,697.5 514.4,691.7 512.8,686.2 512.0,680.0 511.2,673.8 512.0,668.3 515.2,662.0 519.1,656.6 523.8,651.9 530.0,647.2 537.8,643.3 544.1,639.4 549.5,634.7 555.0,630.0 561.2,626.1 567.5,623.4 573.8,622.2 580.0,622.2 584.7,623.4 589.4,625.0 590.0,625.3"/>
<path d="M508.4,678.4 509.7,677.7 510.5,686.2 512.0,692.5 513.6,697.5"/>
<path d="M568.3,619.1 569.8,618.3 570.3,621.4 568.3,623.0Z"/>
<path d="M577.7,616.7 578.4,620.9 576.6,620.9"/>
<path d="M586.2,617.8 588.1,617.5 588.6,619.4 586.7,619.7Z"/>
<path d="M504.2,709.7 506.6,708.4 508.9,706.9 511.2,708.4 508.9,711.2 508.4,716.2 505.8,716.2Z"/>
<path d="M670.0,605.0 670.7,604.4 671.7,604.4 672.3,603.7 673.1,603.4 673.9,603.0 674.8,603.1 675.6,602.9 676.0,601.4 677.0,601.9 678.1,602.0 678.7,600.9 680.0,601.7 680.6,600.4 681.9,601.1 682.5,600.0 683.3,599.4 684.1,598.9 685.1,599.0 686.0,599.1 687.0,599.2 687.9,599.4 688.8,598.8 689.6,598.9 690.5,599.2 691.5,598.9 692.3,599.5 693.2,599.5 694.2,598.6 695.0,599.5 695.8,600.1 697.0,599.7 697.8,600.4 698.6,601.2 699.7,601.1 700.3,601.8 701.0,602.4 702.1,602.4 702.8,602.9 703.6,603.4 704.2,604.3 705.6,604.0 706.0,605.1 706.7,605.8 707.4,606.5 707.9,607.4 708.1,608.4 709.1,608.9 709.8,609.6 710.6,610.1 711.2,610.9 712.2,611.2 713.2,611.0 714.3,611.0 715.3,611.2 715.8,610.4 717.3,611.0 717.5,609.6 718.3,609.2 719.2,608.9"/>
<path d="M719.2,608.9 722.3,605.0 725.5,601.9 729.4,600.0 733.3,600.3 737.2,603.1 740.3,606.6 743.4,609.7 747.3,612.0 751.2,615.2 755.2,617.5 757.5,621.4 758.3,626.9 758.3,633.1 757.5,637.8 759.1,641.7 760.6,644.8 763.0,648.0 766.1,652.7 769.2,657.3 772.3,662.0 776.2,664.4 780.0,666.7"/>
<path d="M759.1,635.5 761.4,635.0 762.5,638.6 764.5,637.0 765.0,640.2 763.0,642.5 761.4,644.8"/>
<path d="M770.8,654.2 773.9,653.8 774.4,658.1 775.5,662.0 773.9,664.4 771.9,661.2Z"/>
<path d="M799.4,520.0 798.3,522.5 796.7,527.2 793.6,531.9 789.7,535.8 786.6,539.7 781.9,544.4 778.8,547.5 776.4,551.4 774.1,555.3 772.2,560.0 771.2,566.2 770.2,572.5 770.2,581.1"/>
<path d="M795.2,524.1 797.5,526.4"/>
<path d="M786.6,536.6 788.9,538.1"/>
<path d="M774.1,545.9 777.2,545.2 779.5,546.7 777.2,549.8"/>
<path d="M745.2,525.6 747.5,526.4 746.7,528.8 748.8,527.5" stroke-width="1.25"/>
<path d="M768.1,574.8 770.2,576.4" stroke-width="1.25"/>
<path d="M715.5,590.5 717.0,588.1" stroke-width="1.25"/>
<path d="M770.9,580.0 772.5,586.2 775.6,594.1 779.5,601.9 784.2,609.7 788.1,615.9 793.6,625.3 797.5,632.3 801.9,639.4 805.6,645.6 808.1,651.9 809.7,658.1 810.3,665.2 810.3,672.2 809.2,678.4 806.9,683.1 803.8,687.8 799.8,691.7 795.2,694.8 791.2,696.9 786.6,699.5"/>
<path d="M787.8,615.6 790.5,616.7 793.1,620.9 793.6,625.0 791.2,623.8 789.4,619.8Z"/>
<path d="M788.9,616.7 792.0,623.0"/>
<path d="M786.6,699.5 790.5,695.9 795.2,694.8 793.6,696.4 789.7,698.3Z" fill="#000"/>
<path d="M760.0,645.6 763.1,648.8 767.0,653.4 770.9,658.1 773.3,663.6 777.2,665.2 780.3,667.5 781.9,672.2 785.0,673.8 788.9,674.5 792.0,677.7 794.1,681.6 795.6,685.5 799.1,685.9 803.0,684.4 806.9,683.1"/>
<path d="M810.3,672.2 811.2,675.3 809.7,680.0 807.7,682.3"/>
<path d="M760.0,637.0 763.1,636.6 764.4,640.2 762.3,643.3 760.0,644.1"/>
<path d="M770.9,655.0 774.1,654.2 774.4,659.7 775.6,663.6 773.3,664.4 771.7,660.5Z"/>
<path d="M790.0,650.3 793.1,645.6 796.7,646.4 798.3,650.3 796.7,655.0 792.8,654.2Z"/>
<path d="M826.4,648.8 829.5,651.1 833.4,649.5 837.3,647.2 841.2,645.6 844.4,643.8 843.6,640.9 845.9,639.7 849.8,639.4 852.2,640.9 853.8,644.1" stroke-width="1.25"/>
<path d="M831.1,644.1 833.4,645.6 832.7,648.8"/>
<path d="M853.8,642.5 857.7,641.7 861.6,644.1 861.2,649.5 858.4,650.3" stroke-width="1.25"/>
<path d="M858.4,650.3 859.2,654.2 860.0,658.1 856.9,656.6 858.4,653.4"/>
<path d="M855.3,643.3 857.7,648.8" stroke-width="1.25"/>
<path d="M835.8,636.6 836.6,637.2" stroke-width="1.25"/>
<path d="M839.7,638.1 840.6,639.1" stroke-width="1.25"/>
<path d="M852.2,651.1 852.8,653.4" stroke-width="1.25"/>
<path d="M846.7,673.8 848.3,676.9 852.2,681.6 856.1,686.2 860.0,690.9 863.1,695.6 862.3,701.1 859.2,701.6 856.9,697.2 853.8,692.5 849.1,688.6 844.4,686.2 845.9,682.3 847.5,678.4Z"/>
<path d="M853.8,687.8 857.7,689.4 860.8,694.1 862.3,699.5 860.0,701.1 857.7,696.4 854.5,692.5Z" fill="#000"/>
<path d="M845.2,686.2 847.5,683.9" stroke-width="1.25"/>
<path d="M848.3,661.2 851.4,663.6 853.0,666.7 850.6,669.1"/>
<path d="M858.4,674.5 863.1,672.5 861.2,675.0Z"/>
<path d="M867.8,663.6 870.2,661.2 874.1,664.4 878.8,665.9 881.9,669.8 882.7,675.3 881.1,673.8 880.3,669.1 876.4,666.7 872.5,665.2 869.4,667.5"/>
<path d="M867.8,663.6 870.2,661.6 874.1,664.4 878.0,665.6" stroke-width="1.25"/>
<path d="M890.5,673.8 894.4,676.9 898.3,680.8 900.6,682.3 898.3,683.9"/>
<path d="M871.7,675.3 872.5,680.0 877.2,684.7 883.4,690.2 889.7,694.8 894.4,696.9 901.4,697.2"/>
<path d="M888.1,693.8 894.4,696.9 897.5,697.5" stroke-width="1.25"/>
<path d="M902.2,691.7 906.1,695.6 910.0,699.5 913.9,702.7 914.7,705.0" stroke-width="1.25"/>
<path d="M825.2,668.0 825.6,668.8" stroke-width="1.25"/>
<path d="M905.3,687.5 905.8,687.8" stroke-width="1.25"/>
<path d="M909.7,689.4 911.2,689.1" stroke-width="1.25"/>
<path d="M887.3,677.2 888.1,677.5" stroke-width="1.25"/>
<path d="M871.2,669.8 871.6,670.6" stroke-width="1.25"/>
<path d="M868.6,692.2 869.4,692.5" stroke-width="1.25"/>
<path d="M898.3,705.0 898.0,706.2"/>
<path d="M897.2,708.9 897.2,710.5"/>
<path d="M897.2,712.8 897.2,714.1"/>
<path d="M890.6,673.8 893.8,676.2 897.5,680.0 900.6,681.9 897.5,683.8" stroke-width="1.25"/>
<path d="M914.8,679.4 916.2,680.0 915.6,683.1 914.4,682.5Z"/>
<path d="M902.5,691.2 905.0,694.4 908.1,698.1 910.0,700.6 906.9,701.0 911.2,701.9 914.4,705.0" stroke-width="1.25"/>
<path d="M880.0,686.2 883.8,690.6 887.5,693.8 891.2,695.6 896.2,696.9 901.2,697.5 895.0,697.8 891.9,699.0" stroke-width="1.25"/>
<path d="M923.8,703.1 927.5,703.8 932.5,703.1 933.8,706.2 931.9,710.0 930.0,713.1 928.5,715.6" stroke-width="1.25"/>
<path d="M925.0,706.2 926.9,708.1 928.1,706.2 930.0,707.5"/>
<path d="M946.9,705.6 950.0,704.8 954.8,705.0 951.2,706.2 947.5,706.5Z"/>
<path d="M963.8,713.8 966.2,711.9 968.8,708.8 971.2,708.1 975.0,709.4 978.8,709.4 980.6,710.6 980.0,714.4 978.8,712.5 975.0,711.9 971.9,710.6 969.4,710.6 966.9,713.1"/>
<path d="M932.8,695.4 934.0,695.0" stroke-width="1.25"/>
<path d="M937.8,703.8 940.0,703.1" stroke-width="1.25"/>
<path d="M905.4,687.2 905.9,687.8" stroke-width="1.25"/>
<path d="M910.0,689.4 911.5,688.8" stroke-width="1.25"/>
<path d="M898.5,705.6 899.0,706.0"/>
<path d="M896.9,709.0 896.9,710.0"/>
<path d="M896.9,712.5 896.9,713.8"/>
<path d="M887.5,677.2 888.2,677.2" stroke-width="1.25"/>
<path d="M145.8,187.1 146.3,187.9 145.6,189.2 147.0,189.5 147.5,190.9 148.6,189.5 149.3,189.9 149.9,189.3 150.5,188.9 151.2,188.7 150.0,189.1 151.3,190.4 150.5,191.0 150.2,192.0 149.8,192.9 148.5,192.6 148.4,193.6 148.9,194.5 149.6,195.0 150.5,194.9 151.2,195.3 152.8,195.1 152.5,196.5 152.8,197.3 153.8,197.2 154.3,197.7 154.8,198.5 154.6,199.6 153.6,200.0 154.8,199.4 154.4,201.6 155.5,201.2 156.3,201.6 157.0,202.1 156.7,203.1 157.3,203.8 158.0,204.4 157.5,205.5 159.5,205.5 157.8,206.9 158.3,207.4 159.1,207.4 159.9,207.8 160.6,207.0 161.7,207.8 161.5,205.5 162.6,206.3 162.5,207.4 164.5,206.9 164.1,208.2"/>
<path d="M164.1,208.2 166.1,207.4 167.7,205.9 168.0,204.3 166.9,207.4 164.5,209.4 162.6,210.6 161.4,211.7 162.6,213.3 164.9,215.2 167.7,217.6 170.8,220.3 174.7,223.1 177.8,225.0 179.4,224.6 181.7,223.8"/>
<path d="M181.7,223.8 181.4,223.0 182.6,222.4 182.1,221.5 181.9,220.7 181.2,220.1 181.8,219.0 180.9,218.4 181.1,217.5 180.5,216.8 181.3,215.8 180.2,215.2 179.4,214.6 179.6,213.7 180.1,212.8 179.4,212.1 179.6,211.1 178.9,210.5 178.9,209.6 178.2,209.0 177.9,208.2 177.7,207.3 176.7,207.0 176.2,206.3 175.5,205.8 174.5,205.7 174.2,204.8 173.9,203.9 173.1,203.6 173.0,202.4 171.7,202.6 171.6,201.6 170.9,200.7 170.1,200.0 170.0,198.8 169.9,198.0 169.9,197.1 169.4,196.4 168.8,195.7 168.7,194.9 168.0,194.3 168.6,193.3 168.0,192.6 167.8,191.8 168.1,190.9 167.5,190.2 167.3,189.5 167.9,188.6 166.6,188.0 166.9,187.1"/>
<path d="M148.5,193.0 150.1,194.9 152.0,195.7 153.2,198.1 154.4,199.6 155.5,201.6 156.7,203.5 157.9,205.9" stroke-width="1.25"/>
<path d="M151.2,195.7 153.6,196.9 155.2,199.6 157.1,202.4" stroke-width="1.25"/>
<path d="M176.2,187.1 176.3,188.4 176.1,189.5 174.7,189.9 174.0,190.6 174.4,191.8 173.9,192.6 173.2,193.6 174.9,194.0 175.0,194.8 174.7,195.7 175.2,196.6 175.9,197.5 176.2,198.5 176.3,197.4 177.1,197.0 177.8,196.5 178.3,195.4 179.3,195.8 180.2,195.7 181.1,195.2 181.9,194.6 182.5,193.8 183.4,193.4 183.7,192.2 184.8,192.2 184.0,191.6 184.5,190.6 185.1,191.1 185.6,191.7 185.6,192.6 184.5,193.0 184.2,193.9 184.1,194.9 183.0,195.1 183.4,196.5 182.5,196.9 181.7,197.5 182.7,198.7 181.7,199.2 182.3,200.2 183.3,200.8 184.1,200.5 184.7,201.7 185.6,201.2 184.6,201.1 184.3,202.4 183.3,202.4 183.5,203.3 183.2,204.7 184.8,204.7 185.8,204.8 186.5,204.5 187.2,203.9 188.2,203.9 189.2,204.0 189.5,202.8 189.0,203.5 188.9,204.6 188.0,205.1 187.8,206.1 187.5,206.9 186.4,207.0 186.2,208.0 186.7,208.6 187.6,209.0 186.2,210.0 187.2,211.1 187.6,212.1 188.4,212.7 187.9,213.7 188.4,214.5 189.4,214.0 190.1,215.2 191.1,214.9 191.7,215.7 191.9,216.8"/>
<path d="M191.9,216.8 191.5,217.9 192.6,218.8 192.3,219.9 192.6,220.7 193.4,221.3 193.0,222.3 193.2,223.1 192.1,223.7 192.7,224.6 192.2,225.6 192.1,226.4 192.7,227.1 193.4,227.8 192.5,228.4 193.1,229.3 193.5,230.3 192.7,230.9 192.7,231.7 193.4,232.3 193.3,233.2 193.4,234.0 193.2,234.8 193.9,235.7 193.0,236.3 192.3,236.7 192.3,238.1 191.1,237.9 191.1,239.0 190.0,239.4 189.5,240.2 190.1,241.2 188.5,241.6 188.7,242.5 188.8,243.4 189.2,244.5 189.1,245.5 188.4,246.5 187.8,247.2 187.7,248.1 187.2,248.8 186.5,249.6 185.3,249.4 184.8,250.4 184.0,250.4 183.6,252.0 182.5,251.2 181.7,251.4 181.0,250.4 180.2,250.8 179.4,250.4 179.0,249.6 180.0,249.4 179.4,247.8 180.5,247.7 179.1,247.6 179.6,246.5 179.4,245.7 179.4,244.9 178.6,244.5 178.9,243.6 180.4,243.7 180.5,242.6 181.3,242.3 181.7,241.5 182.5,241.4 183.0,240.4 184.1,239.9 184.6,239.2 185.4,238.8 185.6,237.9 186.5,237.4 186.6,236.3 187.2,235.6 187.9,234.1 186.4,233.6 185.4,233.6 184.8,232.8 185.1,231.8 183.4,231.9 183.7,230.9 182.9,229.6 181.9,230.5 180.9,230.5"/>
<path d="M180.9,230.5 177.8,229.7 174.7,228.5 171.6,226.6 168.4,223.8 166.1,221.5 164.5,220.7"/>
<path d="M170.0,187.5 171.6,188.7 173.1,187.9 174.7,187.5" stroke-width="1.25"/>
<path d="M174.7,195.7 175.9,197.7 177.0,199.6 176.2,201.6 178.2,200.4 180.2,198.8 181.7,197.3" stroke-width="1.25"/>
<path d="M185.6,204.7 186.8,206.3 188.0,205.1" stroke-width="1.25"/>
<path d="M179.4,212.9 181.7,215.2 182.5,218.4 184.1,220.7 183.3,223.1 185.6,221.5 187.2,223.1 186.0,225.4 188.8,224.6 190.3,227.0 188.8,229.3 191.1,230.1 190.3,233.2 192.3,232.4 191.5,235.6 189.9,237.1 190.3,234.0 188.8,231.7 188.0,234.8" stroke-width="1.25"/>
<path d="M184.8,221.5 187.2,220.7 188.8,222.3 188.0,224.6 186.4,223.8" stroke-width="1.25"/>
<path d="M180.9,216.8 182.9,216.0 183.7,218.8" stroke-width="1.25"/>
<path d="M186.8,238.7 188.8,240.2 187.2,242.2 186.0,244.9 188.0,245.7 186.4,248.1 184.1,248.8 182.5,250.4 180.9,249.6 182.5,247.7 184.8,246.5" stroke-width="1.25"/>
<path d="M164.5,220.7 163.4,224.6 163.0,229.3 163.8,234.0 164.1,238.7 164.5,243.4 164.5,248.1 166.1,248.8 167.7,250.4 165.3,250.8 164.1,252.8 166.1,254.3 164.5,256.3 163.4,258.2 162.6,261.0 161.8,262.9 163.8,262.1 166.1,262.5 166.9,264.0"/>
<path d="M165.3,250.0 166.9,250.8 164.5,252.3 166.1,254.7 163.8,256.2 164.5,257.8 162.6,259.8 162.2,262.5 162.6,264.5 161.4,267.2 160.2,271.1 159.1,275.8 156.7,280.5 154.4,285.2 152.4,290.6 150.5,296.1 148.9,300.8 147.0,306.2 144.2,310.9 141.1,314.8 138.8,318.8 138.1,320.0"/>
<path d="M164.1,252.7 165.7,254.7 163.8,256.6 164.1,258.6 162.6,260.2" stroke-width="1.25"/>
<path d="M162.6,262.9 165.3,262.5 166.9,264.1 168.4,265.2 170.0,266.4 172.3,266.8"/>
<path d="M837.7,376.2 840.8,376.6 842.7,377.4 843.5,380.9 843.8,384.8 843.9,388.8 842.3,392.7 840.8,395.8 838.8,399.7 838.4,402.0 837.3,405.2 836.5,407.1 835.7,404.4 834.9,402.8 832.2,402.4 829.8,401.6 827.5,400.5 825.5,398.5 824.4,396.2 824.8,393.4 825.2,392.3"/>
<path d="M843.5,381.7 844.3,382.5 842.8,383.3 843.3,384.1 844.0,384.8 842.6,385.7 843.2,386.4 844.5,387.1 843.1,388.0 843.9,388.8 842.6,389.2 844.0,390.6 842.6,390.9 843.6,392.2 842.5,392.7 841.5,393.0 841.4,393.8 841.7,394.8 841.2,395.4"/>
<path d="M824.4,396.2 825.2,398.9 826.7,402.0 828.3,405.2 830.6,408.3 833.4,410.2 835.3,411.8 836.1,414.5 836.7,416.9 836.9,420.0 836.1,423.1 834.9,425.9 833.8,428.6 833.0,431.7 832.2,434.8 831.8,438.0 831.4,441.1 830.6,443.4 829.5,443.0 828.7,440.3 829.1,437.2 829.5,434.1 830.2,430.9 830.6,428.2"/>
<path d="M834.9,412.2 835.8,412.8 835.6,413.7 836.6,414.2 836.1,415.3 835.5,416.2 835.9,417.0 836.1,417.7 836.7,418.4 837.3,419.3 836.8,420.1 836.9,420.9 836.7,421.6 836.1,422.3 836.3,423.4 835.8,424.1 835.6,424.9 834.1,425.2 834.5,426.2"/>
<path d="M829.5,436.4 830.2,437.3 829.4,438.0 828.7,438.7 828.6,439.5 829.1,440.3 828.5,441.2 829.5,441.7 830.4,442.1 829.8,443.0 829.9,441.9 831.0,441.9 832.0,441.2 831.2,440.3 830.6,439.4 831.4,438.8"/>
<path d="M818.1,399.7 816.6,401.2 817.3,403.6 816.2,405.9 817.0,408.3 817.3,410.6 818.1,413.4 819.3,415.3 821.2,417.3 822.4,416.5 820.9,418.4 819.7,420.0 821.2,422.3 822.8,423.9 824.4,421.6 825.5,423.1 826.3,425.5 827.5,427.4 829.1,427.8 830.6,428.2"/>
<path d="M817.7,400.1 818.0,400.9 817.2,401.4 816.6,402.0 817.0,402.8 816.4,403.5 816.7,404.4 816.4,405.1 816.0,405.9 816.6,406.7 817.4,407.4 817.4,408.2 817.8,408.9 817.1,409.9 817.3,410.6 817.7,411.4 818.1,412.1 818.5,412.9 818.5,413.8 818.7,414.4 820.1,414.4 818.8,416.1 820.1,416.1 820.4,417.1 821.2,417.0 822.0,416.9"/>
<path d="M817.0,409.1 817.3,410.0 818.2,410.2 818.9,410.6 819.1,411.4 819.0,412.2 818.1,412.6 819.3,412.4 819.6,413.3 820.1,414.1 819.9,415.0 820.7,416.1 819.7,416.9"/>
<path d="M822.8,421.6 823.7,422.3 824.8,422.0 823.6,423.3 825.2,423.4 824.4,424.5 825.9,424.7 825.5,425.9 827.7,425.8 827.1,427.0 826.2,426.6 825.5,426.8 825.2,427.8 825.2,426.8 823.5,426.7 824.0,425.5"/>
<path d="M818.1,399.7 815.0,402.0 813.0,404.4 811.1,406.7 812.3,408.3 813.0,411.4 813.4,414.5 814.2,417.7 815.4,420.8 817.0,423.1 818.9,424.7 816.6,424.7 813.4,421.6 815.0,424.7 817.0,427.0 818.9,428.2 815.8,427.8 812.7,426.2 810.3,425.9 807.6,424.3 805.2,423.9 804.1,421.6 804.8,419.6 806.0,420.0 804.5,423.1 804.1,426.2"/>
<path d="M817.3,400.5 816.8,401.2 815.7,401.0 815.3,401.9 814.6,402.4 813.6,402.5 813.4,403.3 813.9,404.6 812.1,404.1 812.3,405.2 811.6,405.7 812.3,406.7 811.5,407.1 811.2,408.1 811.5,408.8 812.7,409.1"/>
<path d="M804.8,420.0 804.1,420.6 805.3,421.8 805.1,422.6 804.1,423.1 804.1,424.3 805.2,424.7 806.1,425.0 807.1,424.8 808.0,424.7 808.5,425.4 809.2,425.8 810.5,425.1 810.7,426.2 811.7,425.7 812.6,425.7 813.4,426.6 814.4,426.5 814.8,427.8 815.7,427.7 816.6,427.8 817.6,426.5 818.2,427.5 818.9,428.2"/>
<path d="M812.7,420.8 813.3,421.3 813.5,422.1 814.1,422.7 814.3,423.5 815.0,423.9 815.6,424.5 815.8,425.4 816.2,426.2 817.3,426.2 817.6,427.3 818.9,427.0 819.3,427.8"/>
<path d="M811.1,430.5 813.4,432.5 816.6,434.8 819.7,436.4 822.0,437.2 820.5,438.8 818.1,437.2 815.8,439.5 818.1,441.9 821.2,444.2 823.6,440.7 822.8,445.0 824.4,447.3 821.2,447.0 818.1,445.8 813.4,444.6 816.6,446.6 819.7,448.1 822.8,449.7"/>
<path d="M811.5,430.9 811.6,432.1 812.6,432.0 812.6,433.1 813.5,433.2 814.3,433.3 815.0,433.7 815.3,434.6 816.7,434.0 817.3,434.5 817.4,435.8 818.3,435.8 818.9,436.4 819.2,437.5 820.1,437.5 820.7,437.9 821.6,437.6"/>
<path d="M815.8,439.9 815.9,441.1 816.6,441.5 817.4,441.9 818.0,442.4 818.9,442.7 819.8,442.6 819.6,444.4 821.0,443.4 821.4,444.2 822.0,444.6 821.7,443.7 822.1,443.1 823.0,442.6 822.3,441.6 823.2,441.1"/>
<path d="M813.8,444.8 814.1,446.3 814.9,446.4 815.9,445.7 816.9,445.1 817.3,446.2 817.7,447.9 818.9,446.8 819.7,447.0 820.7,446.5 821.2,447.3 821.9,447.7 822.9,446.7 823.4,447.6 824.0,448.1"/>
<path d="M815.8,440.0 818.9,442.3 821.2,443.9 823.6,441.6 822.8,444.7 825.2,447.4 824.4,450.2 822.0,449.4 819.7,447.8 816.6,445.9 813.4,444.7 817.3,445.5 821.2,447.4 823.6,450.5 825.9,449.8 826.3,447.8 829.1,447.8 829.8,447.8"/>
<path d="M816.6,440.4 817.0,441.1 818.0,441.1 818.8,441.4 819.2,442.0 819.7,442.7 819.8,443.8 821.5,443.0 821.1,444.8 822.3,444.4 822.8,445.1 822.7,446.2 823.9,446.3 824.9,446.7 824.8,447.8 825.3,448.8 823.8,449.0 824.0,449.8"/>
<path d="M813.8,444.8 814.6,444.9 815.0,446.0 816.0,445.1 816.8,445.3 817.3,445.9 818.1,446.2 819.4,445.5 819.0,447.8 819.9,448.0 820.9,447.8 821.4,448.5 822.8,448.2 822.4,449.8 823.2,450.2"/>
<path d="M828.7,440.4 829.8,440.0 831.2,440.8 831.4,442.7 830.2,443.8 829.1,443.1Z"/>
<path d="M829.8,447.8 831.4,450.9 833.4,454.5 835.3,458.0 837.7,461.5 840.0,464.6 842.3,467.7 843.9,470.1 844.7,472.8 844.7,476.3 843.1,477.9 840.8,479.5 838.4,481.8 836.5,484.1 834.9,486.9 833.8,490.0 832.6,492.3 830.6,490.8 828.3,491.2 825.9,492.3 823.6,493.9 821.2,495.9 819.3,497.8 817.3,500.5 815.4,503.3 814.2,506.4 813.4,508.8 813.0,511.1 811.1,510.7 808.0,511.9 804.1,513.4 801.3,516.2 799.4,520.0"/>
<path d="M831.0,451.7 830.7,452.8 832.2,453.0 831.8,454.1 832.6,454.7 832.6,455.6 832.7,456.4 832.5,457.2 832.0,458.1 833.1,458.6 833.8,459.1 833.8,460.2 834.6,460.6 835.3,461.1 836.4,461.2 836.9,462.3"/>
<path d="M834.9,461.1 834.3,461.6 833.5,461.4 833.1,462.4 832.2,461.9 830.8,461.0 831.3,463.1 830.6,463.3 829.8,463.4 829.0,463.2 828.4,462.5 827.5,462.7 828.3,463.1 829.4,462.8 829.7,464.2 830.6,464.2 830.0,464.6 829.9,465.7 828.6,465.0 828.3,465.8 827.5,465.3 827.1,464.2 825.6,465.2 825.2,464.2 824.5,463.7 824.5,462.6 823.6,462.3 823.3,461.1 822.7,460.8 821.6,461.2 821.4,462.2 822.2,462.7 822.5,463.5 822.8,464.2 824.2,464.6 821.9,466.0 823.7,466.2 823.6,467.0 824.5,466.4 825.2,466.8 825.9,467.3 826.7,467.3 825.8,467.2 825.8,468.7 824.9,468.6 824.1,468.7 823.6,469.3 824.0,468.6 824.9,468.5 825.9,468.7 825.6,466.7 827.3,468.1 827.5,467.0 828.1,465.3 829.1,467.2 829.8,465.8 830.6,466.8 831.4,466.6 832.4,466.7 832.8,465.4 833.3,464.5 834.5,465.4 835.3,465.5 836.1,465.3 836.8,464.4 837.7,465.0 838.1,465.7 838.7,466.3 839.2,467.0 839.9,467.9 838.9,468.7 837.4,469.4 838.8,470.5 838.3,471.2 837.6,471.8 838.7,473.1 837.7,473.6 836.7,473.8 836.2,474.3 835.5,474.7 836.1,475.9 835.1,475.8 834.4,476.0 834.8,477.8 833.8,477.5 833.1,476.9 832.2,477.2 831.5,476.6 830.6,476.7 829.8,476.6 829.6,475.7 828.8,475.6 828.3,475.2 828.5,476.0 828.5,476.8 829.1,477.5 828.9,476.5 827.5,477.3 827.5,476.1 826.7,475.9 826.3,476.7 825.2,476.7 825.5,478.2 824.4,478.3 823.8,477.5 823.0,477.8 822.2,477.9 821.7,477.1 820.9,477.5 821.2,478.6 822.1,478.5 822.7,479.2 823.4,479.6 824.4,479.5 825.4,479.2 826.1,479.6 827.0,479.5 827.5,480.6 826.9,482.1 828.6,481.8 829.2,482.3 829.2,483.3 829.8,483.8 830.7,483.9 831.5,484.4 832.2,484.9 833.1,485.0 834.0,484.3 834.9,484.5 835.3,485.7 834.8,486.4 833.8,486.9 832.9,486.9 832.1,486.7 831.5,485.8 830.6,486.1 829.8,485.9 829.1,486.8 828.3,486.1 827.4,486.1 826.9,487.0 825.9,486.5 825.2,486.9 824.5,486.5 824.0,485.8 822.7,486.2 822.9,484.7 822.0,484.5 823.3,484.6 823.1,485.7 822.9,486.8 823.5,487.3 824.4,487.7 825.1,488.2 825.9,488.3 826.8,487.5 827.5,488.0 828.9,487.2 829.1,488.3 829.7,488.7 829.9,489.8 830.6,490.0 831.1,490.8 832.5,490.8 832.6,492.0"/>
<path d="M834.5,465.8 835.0,466.5 834.8,467.4 835.9,467.9 835.3,468.9 835.5,469.8 834.0,470.2 834.5,471.2"/>
<path d="M819.7,493.9 818.5,493.1 818.1,494.7 819.3,495.9"/>
<path d="M813.4,508.8 812.3,505.6 813.0,508.0"/>
<path d="M534.1,258.3 534.5,255.8 535.6,255.0 538.0,256.6 536.0,253.4 535.6,249.5 535.2,246.0 536.8,245.2 538.8,244.5 541.1,243.3 543.4,242.5 545.8,243.7 547.0,246.0 548.1,248.4 549.7,250.3 550.9,253.0 550.1,255.0 548.1,255.8 546.6,257.0 544.6,258.5 543.0,260.1 541.1,260.1 539.1,258.5 537.6,257.3 536.0,260.1 534.5,260.1Z"/>
<path d="M536.8,246.4 539.5,245.6 541.1,248.0 543.4,244.8 545.0,247.2 543.4,249.5 545.8,249.1 547.7,251.1 545.8,252.7 543.4,253.4 545.0,255.0 542.7,255.8 541.5,253.4 539.5,252.7 540.3,250.3 538.0,249.5 538.8,247.6 536.8,246.4" stroke-width="1.25"/>
<path d="M536.4,248.0 536.8,252.7 538.4,253.4" stroke-width="1.25"/>
<path d="M547.0,252.7 549.3,254.2 548.1,255.0" stroke-width="1.25"/>
<path d="M558.3,264.4 557.5,261.2 557.3,258.9 559.1,258.1 559.8,260.1 561.4,262.0 563.8,262.4 566.1,262.8 568.4,264.4 570.0,265.9 570.8,267.5 568.4,267.5 566.1,267.9 563.8,267.1 561.8,265.5 559.8,264.8Z"/>
<path d="M558.3,259.7 559.5,262.0 561.4,263.6 563.8,264.4 566.5,265.2 569.2,266.7" stroke-width="1.25"/>
<path d="M560.6,262.8 563.0,265.5 565.7,266.7 563.8,265.2" stroke-width="1.25"/>
<path d="M600.0,278.0 596.6,279.6 593.4,282.0 590.3,285.5 587.2,289.4 583.3,293.3 579.4,297.2 577.4,299.1 580.2,299.9 584.1,298.4 588.8,296.0 593.4,294.1 596.6,293.7 598.1,291.7 597.0,294.8 595.0,296.4 593.4,298.8 593.0,301.1 595.0,299.1 598.1,300.7 600.0,301.2"/>
<path d="M597.0,292.5 596.2,295.2 594.2,298.0" stroke-width="1.25"/>
<path d="M600.0,277.7 603.1,276.5 606.2,274.5 609.4,272.2 611.3,269.8 611.7,266.7 612.5,263.6 614.1,262.4 616.4,261.2 618.4,259.7 619.5,257.3 621.1,255.8 622.7,256.6 623.4,254.2 623.0,252.3 625.0,251.2 627.0,252.3 629.3,252.7 631.2,253.4 633.6,254.2 636.7,253.8 639.8,253.4 642.2,253.0 644.5,253.4 646.9,253.4 648.4,255.8 650.0,259.7 651.6,262.8 653.9,265.9 656.2,267.9 659.4,267.9 662.5,267.1 665.6,266.3 668.4,266.3 668.6,268.7 667.6,271.4 668.0,273.8 670.3,275.3 672.3,276.9 673.4,279.2 672.3,282.0 671.5,283.9 673.4,284.7 675.0,286.2 677.3,285.9 677.0,288.6 676.2,291.7 678.1,293.3 680.0,292.5"/>
<path d="M613.3,268.3 614.5,266.7 615.6,264.4 617.6,262.8 619.5,262.0 621.1,260.5 622.7,258.1 625.0,256.6 627.3,255.0 629.7,255.8 631.2,255.0 628.9,254.2 626.6,253.4 624.6,254.2 625.8,255.8 623.4,257.3 621.1,258.1 620.3,261.2 618.8,263.6 616.4,265.2 613.3,268.3"/>
<path d="M619.9,260.1 621.5,257.0 623.4,255.0" stroke-width="1.25"/>
<path d="M625.8,253.4 628.5,254.6 630.9,254.6" stroke-width="1.25"/>
<path d="M612.9,274.9 614.1,273.0 616.8,270.6 619.9,268.7 622.3,267.9 620.7,270.2 618.4,272.6 615.6,274.5 613.7,275.7Z"/>
<path d="M655.1,272.6 656.2,271.4 658.6,271.2 659.8,272.2 658.2,273.1 655.9,273.4Z"/>
<path d="M680.0,294.8 677.3,294.5 675.0,294.8 670.3,294.8 670.2,291.7 669.9,289.0 667.2,289.4 664.1,290.5 660.9,292.1 657.8,292.9 654.7,294.1 651.6,296.0 649.6,297.6 648.4,298.8 646.1,298.0 643.8,297.2 641.4,298.4 639.5,297.6 637.5,295.2 635.5,292.9 633.6,291.7 631.2,291.1 628.5,291.1 626.6,292.5 625.0,295.2 624.2,292.5 625.4,289.4 627.0,286.2 628.9,283.9 631.2,282.0 633.6,280.8 631.2,280.2 628.5,280.8 626.2,282.0 623.8,284.3 621.5,287.0 619.1,289.8 616.8,291.7 614.1,293.3 610.9,294.5 607.8,295.2 604.7,297.6 602.3,299.5 600.0,300.7"/>
<path d="M675.0,285.9 677.0,287.0 676.6,290.2" stroke-width="1.25"/>
<path d="M648.0,297.6 649.2,298.4" stroke-width="1.25"/>
<path d="M613.7,230.0 612.9,233.1 612.5,235.5 610.9,237.0 611.7,239.4 613.3,241.7 615.2,242.9 616.4,240.9 618.0,241.7 618.8,244.1 620.7,244.5 621.1,243.3 623.4,243.4 623.6,239.4 623.4,235.5 622.7,232.7 621.9,230.0 620.5,227.7 616.8,226.9 614.5,228.0Z"/>
<path d="M610.9,237.4 612.1,239.8 613.7,242.1 615.6,242.5 616.8,241.3" stroke-width="1.25"/>
<path d="M669.1,290.0 669.5,293.9 674.9,293.9 675.3,290.8 676.5,290.0"/>
<path d="M676.1,293.5 678.4,292.3 681.6,292.0 682.3,294.3 682.0,297.0 684.7,295.5 686.2,297.8 687.8,299.8 690.9,300.5 694.1,301.7 698.0,300.9 701.9,300.5 705.0,299.4 708.1,297.8 710.0,298.6"/>
<path d="M684.7,295.5 689.4,295.5 694.8,295.9 700.3,295.1 705.8,294.7 710.0,294.3"/>
<path d="M676.9,302.9 681.6,301.7 686.2,300.9 692.5,301.7 698.0,302.5 703.4,302.9 708.1,304.1 710.0,304.8"/>
<path d="M681.6,297.4 683.9,298.6 686.2,299.8 689.4,300.9 692.5,301.3 696.4,301.7 700.3,300.9 703.4,300.2" stroke-width="1.25"/>
<path d="M684.7,296.2 687.0,298.6 690.2,300.2" stroke-width="1.25"/>
<path d="M645.2,311.5 646.4,309.1 648.4,310.7 649.9,309.1 651.9,308.8 650.7,311.9 651.5,313.0 653.4,309.9 654.2,308.0 656.6,306.8 659.7,306.0 662.0,305.2 664.4,303.3 666.7,302.3 669.8,302.9 672.2,304.1 674.5,305.2 676.1,303.7 677.7,302.5 676.9,302.9"/>
<path d="M646.0,309.5 646.8,311.5" stroke-width="1.25"/>
<path d="M650.7,312.3 651.5,310.3" stroke-width="1.25"/>
<path d="M645.2,311.5 644.1,314.2 642.5,318.1 640.9,322.0 639.4,325.9 637.4,329.1 635.9,332.6 635.3,336.1 636.6,336.5 638.6,333.8 640.2,331.4 642.5,329.8 644.1,326.7 645.6,322.8 647.2,320.1 648.8,318.5 647.6,321.2 646.0,325.2 644.8,329.1 643.7,333.0 642.5,337.7 641.7,342.3 640.9,347.0 640.5,351.7 639.8,356.4 639.4,361.1 640.2,365.0 641.7,368.1 642.5,370.0"/>
<path d="M648.4,318.9 646.8,322.0 646.0,324.4" stroke-width="1.25"/>
<path d="M675.3,306.4 673.4,308.4 672.2,311.1 671.8,313.4 674.5,314.6 672.6,315.8 670.2,317.0 668.7,318.5 669.1,321.2 669.5,324.4 668.7,327.1 667.1,327.9 666.3,325.9 665.9,322.8 666.3,320.1 665.2,322.0 664.4,324.4 662.4,325.2 660.9,322.8 660.1,321.2 661.2,324.4 660.1,326.7 659.3,329.1 658.3,332.2 658.9,335.3 658.1,338.4 657.0,341.6 656.6,343.9 657.7,346.2 657.3,350.2 658.1,353.3 659.7,356.4 661.2,359.5 662.8,362.7 663.6,365.8 664.0,370.0"/>
<path d="M666.7,323.6 668.3,321.2 669.1,324.4 668.4,327.3 667.1,327.9 666.3,325.9Z" fill="#000"/>
<path d="M664.8,309.9 665.9,309.5 666.6,311.5 665.5,312.7 664.5,311.5Z"/>
<path d="M675.3,306.4 678.4,306.8 681.6,308.4 683.9,310.3 687.0,311.5 690.9,312.3 694.1,313.4 696.0,315.8 697.6,318.1 696.0,320.1 697.2,322.0 698.4,324.4 698.8,327.5 698.4,330.6 698.0,333.0 696.4,334.5 696.4,336.9 694.1,338.4 692.5,340.0 692.5,343.1 693.3,345.5 696.4,346.2 698.0,343.9 699.1,340.8 700.3,338.4 702.7,336.1 705.0,335.3 707.3,336.1 708.9,337.7 710.0,339.2"/>
<path d="M676.9,306.0 680.0,306.8 680.8,308.4" stroke-width="1.25"/>
<path d="M180.2,213.7 180.5,214.3 180.7,215.1 182.6,215.0 180.1,217.1 180.3,217.8 180.8,218.4 182.5,218.4 183.8,218.4 183.9,219.3 184.8,219.5 184.9,220.5 184.8,221.5 185.7,221.5 186.2,222.0 187.5,221.3 187.2,223.1 187.3,223.9 188.5,224.1 187.8,225.5 187.7,226.5 189.5,226.2 188.6,227.3 189.9,227.8 190.5,228.4 191.9,228.9 190.7,230.1 189.8,231.1 192.3,231.4 192.3,232.2 191.4,233.2 191.5,234.0 192.8,235.4 192.1,236.0 190.2,236.2 190.3,237.1 188.8,237.1 190.8,239.2 189.4,239.1 187.5,238.8 188.4,240.2 186.9,240.7 186.3,241.3 187.6,242.6 189.3,243.9 187.2,244.2 187.6,245.4 185.1,245.0 188.0,247.5 185.6,247.3 185.0,247.8 183.9,247.6 185.2,250.6 184.6,251.2 182.5,249.6 181.2,246.7 181.1,250.6 180.2,250.0"/>
<path d="M174.7,195.7 175.3,196.4 174.4,197.6 174.8,198.4 176.2,198.8 176.2,199.6 177.2,200.1 179.0,200.2 176.5,202.5 179.0,202.2 178.2,203.5 178.9,204.1 179.6,204.8 179.0,206.1 180.9,206.1 180.2,207.4 181.7,207.7 182.5,208.3 179.9,210.2 182.1,210.3 181.7,211.3 183.1,211.7 183.4,212.5 182.5,213.8 182.1,214.8 183.3,215.2 183.7,215.9 184.0,216.6 184.7,217.1 182.8,219.1 183.3,219.7 185.6,219.2 185.5,220.6 186.3,220.6 187.3,220.4 188.0,220.7"/>
<path d="M188.8,227.8 188.1,229.1 190.8,228.7 190.0,230.1 190.3,230.9 189.6,231.5 187.8,232.0 189.0,233.1 188.4,233.7 189.5,234.8 190.2,235.9 187.8,235.9 187.3,236.6 188.6,238.0 188.0,238.7 188.1,239.7 187.2,240.2 186.0,240.6 186.7,241.8 186.4,242.6 185.3,242.8 185.0,243.5 185.8,244.9 185.5,245.6 185.4,246.4 184.1,246.5 184.3,247.9 182.8,247.6 181.6,247.6 181.7,248.8"/>
<path d="M152.8,197.3 153.2,197.9 153.7,198.5 153.7,199.5 154.8,199.6 154.9,200.5 155.6,201.2 155.9,202.0 156.3,202.8 155.2,204.3 156.1,204.8 158.3,204.7 157.9,205.9 157.5,207.9 158.9,207.2 159.8,207.0"/>
<path d="M590.0,625.3 590.9,625.5 591.9,625.8 592.8,625.3 593.8,625.5 594.7,625.2 595.7,625.3 596.4,624.9 597.2,624.4 597.8,623.8 596.9,623.0 597.0,621.8 598.1,622.0 598.7,621.3 599.4,620.6 600.6,621.0 600.9,619.8 601.7,619.5 602.0,620.3 602.5,621.0 603.4,620.3 604.5,620.6 605.5,620.6 606.4,621.0 606.3,621.8 606.5,622.6 606.0,623.4 605.2,623.8 605.3,624.7 604.8,625.3 604.0,625.1 603.4,626.2 602.5,625.7 601.9,625.0 600.9,625.0 600.2,624.5 599.5,623.9 598.3,624.8 597.8,623.8"/>
<path d="M606.4,622.6 607.0,623.5 607.8,623.9 608.8,624.1 609.3,625.1 609.9,625.7 611.1,625.3 611.6,626.3 612.7,626.9 612.6,627.7 612.3,628.5 611.9,629.2 612.7,629.9 613.8,630.0 614.7,629.4 615.0,628.4 613.9,628.0 613.4,626.9"/>
<path d="M615.0,630.0 616.1,630.0 616.9,630.5 617.3,631.6 618.1,632.0 617.8,633.3 618.9,633.5 619.7,633.5 620.5,633.1 621.2,633.5 621.2,631.9 622.8,632.0 623.1,630.9 623.6,630.0 624.4,629.6 624.5,628.8 624.8,628.0 625.9,627.9 626.7,627.3 628.4,627.2 628.3,628.8 629.2,629.3 629.5,630.3 629.8,631.2 630.8,630.8 631.4,631.6 631.4,630.4 632.6,630.0 633.1,629.0 630.7,628.9 631.8,627.7 631.7,626.5 632.6,625.7 634.1,625.7 634.1,624.1 635.1,623.7 636.1,623.8 637.1,624.5 636.9,625.7 636.2,626.1 635.3,626.1 634.9,626.9 633.8,626.5 633.4,627.7"/>
<path d="M636.9,623.8 637.8,623.4 638.4,622.6 639.2,623.2 640.0,623.8 640.8,624.1 641.3,625.0 642.3,624.9 643.0,625.5 644.1,624.8 644.7,625.7 645.6,626.3 646.2,625.0 647.0,625.3 647.8,625.8 648.3,626.8 649.4,626.9 649.7,627.6 650.0,628.3 650.5,628.8 649.3,629.1 649.4,630.4 648.5,630.1 647.9,631.4 647.0,630.8 647.4,632.4 645.1,631.9 645.1,633.1 645.1,632.3 645.6,631.6 645.9,630.8 644.5,631.1 645.1,629.0 643.9,629.2 643.0,628.9 641.7,629.1 641.6,627.7 640.7,627.3 640.3,626.1 639.2,626.1 638.1,626.6 637.3,625.7"/>
<path d="M637.7,620.6 638.0,619.9 639.4,620.7 639.4,619.5 640.0,619.1 641.3,619.1 641.9,618.6 641.2,617.3 641.6,616.7 641.4,615.8 642.8,615.8 642.5,614.8 643.1,614.4 642.4,613.3 643.2,612.9 644.5,612.9 644.3,612.0 645.7,612.3 644.5,610.5 645.5,610.5 645.0,611.1 645.4,611.8 645.7,612.5 644.7,613.0 643.7,613.5 644.7,614.4 645.1,615.1 645.7,616.0 642.3,615.8 643.5,616.7 643.9,617.5 644.7,619.2 643.8,619.3 643.9,620.3 642.9,620.3 641.6,619.8 640.5,619.5 641.0,621.1 639.2,619.9 639.6,621.4 639.1,620.9 637.8,622.1 637.7,620.6"/>
<path d="M638.8,619.5 639.1,618.7 638.6,617.3 639.6,617.3 640.8,617.5 639.8,616.0 642.6,617.0 641.4,615.4 642.3,615.2 642.4,614.3 643.5,614.2 644.2,613.8 643.9,612.8 644.8,612.7 645.1,612.1 645.1,611.2"/>
<path d="M638.4,610.1 639.3,609.6 640.3,609.1 640.8,608.1 641.7,607.8 642.2,606.8 643.2,606.8 643.9,606.2 644.8,606.1 645.4,605.3 646.1,604.8 647.0,605.0 648.0,605.1 648.3,603.7 649.6,604.6 650.2,603.8 651.2,604.1 652.2,604.5 653.3,604.2 654.2,604.2 654.7,605.2 655.6,605.0 656.5,604.8 657.4,604.6 658.0,603.8 658.7,603.7 659.6,603.8 660.3,603.4 661.2,603.8 662.1,603.0 663.0,603.4 663.3,602.5 663.0,601.5 663.6,600.5 663.4,599.5 664.0,599.0 664.4,598.4 664.6,597.6 665.5,598.0 666.2,598.8 667.0,599.5 666.6,600.6 667.0,601.5 667.2,602.5 667.8,603.2 668.5,603.8 669.3,604.4 670.0,605.0"/>
<path d="M641.6,609.1 644.7,607.5"/>
<path d="M648.6,607.0 652.5,607.3"/>
<path d="M656.4,607.3 660.3,606.2"/>
<path d="M664.2,605.8 668.1,605.4"/>
<path d="M622.4,610.1 623.6,608.1 625.2,608.0 626.3,609.3 628.3,607.3 629.8,606.6 632.2,607.3 634.5,608.9 636.1,610.1 634.9,611.2 633.0,612.8 630.6,613.6 627.5,613.4 625.5,612.0 623.6,611.6Z"/>
<path d="M622.7,610.1 623.2,608.9 624.8,608.8 625.5,610.1 624.8,611.4 623.2,611.2Z"/>
<path d="M635.3,611.2 635.4,612.3 636.4,612.8 636.9,613.6 637.8,614.2 638.4,615.2 639.0,614.2 640.0,614.4 640.0,613.5 640.2,612.7 640.8,612.0 640.2,611.2 639.2,610.9 638.4,610.1"/>
<path d="M651.3,611.2 652.3,613.6 652.1,616.3 650.9,618.3"/>
<path d="M590.4,621.0 592.3,620.8 593.5,622.2 592.3,623.4 590.6,623.0"/>
<path d="M930.8,215.6 932.5,214.3 933.8,215.6 934.7,218.7 936.0,220.9 937.8,222.7 940.0,223.1 941.3,221.4 943.9,220.9 947.5,220.0 950.1,219.2 952.7,217.8 955.4,216.5 958.4,214.9 961.5,214.1 960.6,216.1 959.3,218.3 958.0,220.0 956.2,220.9 956.2,222.7 958.0,223.6 958.4,225.3 956.2,227.1 954.1,227.1 952.7,225.3 951.0,224.0 949.2,224.9 947.5,226.2 944.8,226.9 942.2,226.2 939.6,225.3 937.8,225.7 936.0,224.4 934.3,222.7 932.5,223.1 930.8,222.7 930.3,219.2Z"/>
<path d="M918.9,199.8 919.5,199.5 920.2,199.4 920.2,200.2 920.3,201.0 921.1,201.6 921.6,202.7 921.1,203.7 920.7,204.7 919.7,205.0 918.9,205.5 918.4,206.5 918.7,207.6 918.5,208.6 918.8,209.5 918.6,210.4 919.0,211.2 919.2,212.1 918.9,213.0 918.6,213.9 918.4,214.7 918.3,215.6 918.5,216.5 917.7,217.0 917.6,218.0 917.1,218.7 916.3,219.6 917.0,218.8 917.7,218.2 918.9,218.7 919.5,218.0 920.5,218.1 921.1,217.4 921.7,218.1 922.7,217.7 923.3,218.3 923.3,219.2 923.2,220.1 923.3,221.0 923.7,221.8 924.6,222.2 925.3,222.9 925.9,223.6 925.8,224.7 927.1,225.2 927.2,226.2 927.8,226.8 928.6,227.1 929.0,227.9 929.7,228.6 930.8,228.6 931.2,229.7 932.2,229.9 933.3,230.0 934.3,230.1 935.1,229.7 936.0,229.6 936.9,229.7 937.6,230.2 938.5,230.4 939.1,231.0 939.9,230.9 940.4,229.9 941.3,230.1 941.1,231.3 939.7,230.6 939.5,231.7 938.7,231.9 939.5,231.8 940.2,232.3 940.8,233.0 941.7,232.8 942.5,233.1 943.3,233.4 943.9,233.9 944.9,233.9 945.8,233.9 946.6,233.2 947.5,233.1 948.3,232.9 949.2,232.8 950.1,232.6 950.9,231.9 951.9,231.9 952.9,232.2 953.8,231.8 954.5,231.0 955.4,231.3 956.3,230.9 957.1,230.6 958.0,230.4 958.8,231.1 959.8,230.5 960.6,231.0 961.2,230.4 962.0,230.0 962.8,229.7 963.6,229.1 964.1,228.3 964.6,227.5 964.7,226.6 965.8,226.3 965.9,225.3 966.1,226.4 967.2,226.6 967.7,227.3 968.2,227.9 968.1,228.8 968.7,227.8 969.9,227.5 971.0,227.6 972.1,227.1 972.6,225.8 973.9,226.3 974.7,225.7 975.6,225.5 976.5,225.3"/>
<path d="M919.8,187.1 918.9,190.2 917.1,192.8 914.9,196.3 913.2,199.4 910.5,202.0 907.0,202.9 903.5,202.5 900.0,202.9"/>
<path d="M900.0,207.3 903.5,207.3 907.0,209.0 908.8,210.8 911.4,207.7 914.1,205.5 917.6,204.7 918.9,203.8"/>
<path d="M919.5,199.6 920.4,202.0 919.8,205.1" stroke-width="1.25"/>
<path d="M976.5,225.3 973.8,223.6 971.2,220.9 970.3,218.3 970.8,213.9 971.6,209.5 972.5,205.1 973.4,200.7 974.3,197.6 976.5,197.2 978.7,198.1 979.5,201.6 980.2,206.0 980.4,209.5 980.9,209.5 983.5,208.6 985.7,209.0 985.3,212.1 983.5,214.8 984.4,217.4 985.7,220.0 984.4,222.7 981.7,224.0 979.5,225.3 977.8,226.2"/>
<path d="M980.4,209.5 980.4,211.0 981.4,210.5 982.2,210.4 981.1,210.8 981.9,211.7 980.7,212.1 981.3,213.0 980.8,214.4 981.9,214.2 982.6,214.3 981.6,213.9 982.7,217.0 980.5,214.6 980.4,215.6 980.5,216.4 981.0,216.8 982.6,216.1 982.2,217.4 981.8,218.4 981.8,220.0 981.2,220.4 979.5,218.7 979.4,220.2 980.8,219.1 980.9,220.2 981.7,220.0 981.6,221.3 979.6,218.5 979.6,220.2 979.6,221.9 978.7,221.4 979.5,221.2 980.4,220.9 981.4,220.5 980.9,222.7 980.0,222.5 980.1,224.3 979.3,224.2 978.5,223.9 977.8,224.0 979.1,223.4 978.2,225.9 979.5,225.3"/>
<path d="M980.9,210.4 981.1,211.0 980.8,211.9 981.7,212.1 979.9,211.8 979.9,212.5 981.1,214.0 980.4,214.3 979.9,214.8 980.6,215.9 979.6,216.1 979.1,216.5 978.9,217.2 978.4,217.7 977.9,218.3 978.2,219.2 978.1,219.8 977.0,220.2 977.5,221.1 977.3,221.8"/>
<path d="M975.1,230.6 977.8,229.7 982.6,229.3 980.4,231.9 977.3,232.8 975.1,230.6"/>
<path d="M982.6,229.3 982.4,230.2 981.0,230.2 980.5,230.9 980.6,232.1 979.6,232.5 979.1,233.2 978.6,233.9 978.0,234.6 977.2,235.0 976.5,235.4 975.8,235.9 974.9,236.3 974.7,237.3 973.8,237.6 973.5,238.4 973.5,239.3 972.4,239.5 972.1,240.2 971.6,241.0 970.8,241.5 970.4,242.2 969.4,242.4 968.7,242.9 968.4,243.8 967.3,243.9 966.8,244.6 966.5,245.5 965.9,246.1 965.1,246.6 964.6,247.3 963.6,247.4 963.0,248.3 962.0,248.5 961.5,249.5 960.7,249.7 960.0,250.0 959.3,250.4 958.9,251.2 958.3,251.9 958.1,253.0 957.1,253.4 956.5,254.1 955.5,253.7 954.9,254.3 955.6,255.2 956.2,256.1 955.7,256.7 954.9,257.0 954.5,257.8 953.6,257.8 952.7,258.2 951.9,258.3 951.0,257.8 951.2,256.7 950.5,256.1 949.8,256.8 950.1,258.0 949.2,258.7 948.6,259.7 947.5,259.6 947.1,260.5 946.5,261.2 946.6,262.2 946.9,263.3 947.9,264.0 948.0,265.0 947.7,265.9 947.0,266.6 947.3,267.7 946.4,268.4 946.1,269.3 945.6,270.1 945.3,270.9 945.3,271.9 945.0,272.7 944.1,273.1 943.9,274.0"/>
<path d="M932.5,236.7 935.2,237.6 937.8,236.7 937.4,238.9 935.6,241.1 934.3,244.6 933.0,246.8 933.8,248.2 936.0,247.7 938.7,245.5 941.7,244.2 944.8,242.9 947.9,242.0 951.4,241.3 949.2,242.9 947.0,244.6 944.8,246.8 943.5,249.0 945.3,250.4 942.2,249.0 940.9,246.8 939.6,247.7 936.9,250.8 934.3,254.3 931.6,257.8 929.0,261.3 926.4,264.9 924.6,268.4 923.3,271.9 922.4,274.0"/>
<path d="M934.7,237.2 936.5,238.9" stroke-width="1.25"/>
<path d="M928.1,263.1 926.4,266.6 925.0,269.7" stroke-width="1.25"/>
<path d="M933.4,241.1 933.3,242.0 932.6,242.5 931.9,243.0 931.6,243.8 931.2,244.7 930.3,245.1 929.4,245.5 929.0,246.4 928.2,246.7 928.2,247.8 927.3,248.2 927.1,249.0 926.4,249.5 925.6,249.9 925.8,251.1 924.5,251.1 924.5,252.1 923.7,252.6 923.2,253.4 922.1,253.6 922.0,254.8 921.1,255.2 920.4,255.5 919.7,256.0 919.0,256.4 918.5,256.9 917.7,257.3 917.2,257.9 916.3,258.0 915.8,258.7 915.0,259.0 914.4,259.7 913.6,260.1 913.2,260.9 912.4,261.6 911.5,261.9 910.5,262.2 910.7,263.2 910.5,264.2 910.2,265.2"/>
<path d="M958.9,191.5 957.1,193.7 955.8,196.3 955.4,199.4 956.2,200.7 957.6,200.3" stroke-width="1.25"/>
<path d="M912.7,267.9 913.9,268.4 914.1,270.1 913.0,270.6Z"/>
<path d="M908.3,263.5 909.7,265.7 910.5,267.5" stroke-width="1.25"/>
<path d="M472.5,186.6 473.9,188.1 475.6,189.1 475.9,191.5 474.6,193.6 474.2,197.0 474.6,200.4 475.3,203.8 477.0,206.6 478.7,208.3 480.7,207.9 482.1,209.6 483.5,207.9 485.5,208.6 486.9,210.3 487.9,212.7 488.2,215.4 487.9,217.8 488.9,219.5 490.0,222.3 491.3,225.0 492.3,227.8 493.4,230.5 493.0,233.2 494.1,234.9 495.8,235.6 498.2,235.3 500.2,233.9 501.9,232.2 501.2,229.8 499.9,227.8 498.5,225.7 496.8,223.6 495.1,222.3 492.7,221.6 491.3,220.2 490.6,218.5 492.3,217.5 493.4,215.4 493.0,213.7 491.7,212.7 491.3,210.3 491.0,207.9 490.0,206.2 488.2,206.2 486.5,204.5 484.8,204.8 482.8,204.2 480.7,204.5 479.7,202.5 479.0,199.7 478.3,197.0 478.7,194.3 480.0,192.2 480.9,189.5 480.6,186.6"/>
<path d="M475.6,200.4 475.5,201.1 475.8,201.8 476.4,202.4 475.6,203.2 476.3,203.8 476.1,204.8 477.8,204.4 477.3,205.6 477.3,206.5 478.3,206.6 479.1,206.6 480.0,206.1 480.4,207.2 481.1,207.5 482.5,206.9 482.1,208.6 481.9,207.9 481.0,207.4 482.3,206.3 480.8,206.0 481.1,205.2 481.7,205.1 482.2,205.6 482.8,205.9 483.2,207.0 484.4,205.6 484.8,206.6 485.9,206.1 486.3,206.5 485.9,208.2 486.9,207.9"/>
<path d="M488.2,208.6 487.9,209.5 489.1,209.8 489.4,210.5 489.3,211.3 488.5,212.3 489.3,212.8 490.7,213.2 490.0,214.1 490.0,214.9 488.8,215.2 489.6,216.3 488.9,216.8 489.0,217.5 489.6,217.9 489.9,218.5 490.0,219.2 489.8,218.0 491.0,218.2"/>
<path d="M472.2,186.6 473.5,187.4" stroke-width="1.25"/>
<path d="M490.3,186.6 492.3,188.8 494.1,190.5 495.1,192.9 497.1,194.3 498.5,196.6 499.2,199.0 500.5,201.4 502.3,202.8 502.9,200.7 503.3,198.7 505.0,198.0 506.7,198.7 506.0,200.7 507.7,200.1 509.1,202.1 509.8,204.5 509.1,206.9 508.4,209.3 509.1,211.3 510.5,210.3 511.5,208.3 512.9,206.9 514.9,205.9 514.2,207.9 513.5,210.7 512.9,213.4 512.5,216.1 513.9,214.8 515.2,213.4 514.2,216.1 513.2,218.9 512.5,222.3 512.3,225.7 512.9,229.1 513.9,231.2 515.6,231.9 517.3,230.8 517.6,228.4 518.0,226.4 519.7,225.7 520.7,227.1 521.2,225.0 520.7,222.3 520.4,218.9 520.7,216.8 521.7,215.4 520.7,213.4 519.0,210.7 517.6,207.9 516.3,205.2 514.9,202.5 513.2,199.4 511.8,196.0 511.1,192.2 510.1,188.8 509.1,186.6"/>
<path d="M505.3,198.7 506.0,200.4" stroke-width="1.25"/>
<path d="M514.6,214.1 515.9,213.1" stroke-width="1.25"/>
<path d="M511.0,674.7 512.0,668.8 513.4,663.9 516.4,659.1 519.3,655.2 524.2,651.2 529.1,647.3 533.9,644.9 538.8,642.5 543.7,638.6 547.6,634.6 551.5,630.7 554.5,628.8"/>
<path d="M549.6,623.9 551.0,625.4 553.5,623.4 555.4,622.0 555.9,624.9 554.9,627.8 557.4,626.8 553.5,629.8 551.0,631.7 548.1,634.6 549.6,630.7 551.0,628.3 550.1,626.3Z"/>
<path d="M504.2,672.2 505.6,669.3 507.1,670.8 508.6,668.3 509.0,671.3 511.0,671.8 507.6,672.2 504.6,672.7"/>
<path d="M508.1,660.5 510.5,660.0 512.0,662.5 514.4,663.0 512.9,664.9 511.0,663.5"/>
<path d="M512.9,656.6 515.4,654.2 516.9,656.6 519.3,653.7 521.2,652.2 520.3,655.2 518.3,657.1 515.9,658.6"/>
<path d="M522.2,643.9 524.2,645.4 526.6,644.4 528.6,645.9 531.0,643.4 530.0,646.9 527.6,648.3 525.6,649.3 524.2,647.8"/>
<path d="M533.0,644.9 535.9,643.9 537.9,643.4"/>
<path d="M507.6,678.6 509.0,677.6 509.5,679.6"/>
<path d="M876.9,345.7 878.0,345.5 877.7,343.9 878.8,343.8 879.7,343.5 880.1,342.6 880.8,342.2 881.3,341.5 882.0,341.0 882.7,340.6 883.0,339.7 884.6,340.7 884.7,339.5 885.4,338.7 886.2,338.3"/>
<path d="M880.0,346.9 880.6,346.4 880.6,345.0 882.0,345.7 882.3,344.6 883.3,345.4 883.9,344.9 884.9,345.5 885.5,344.5"/>
<path d="M884.7,331.6 886.6,331.2 888.6,332.4 890.2,334.4 890.9,336.7" stroke-width="1.25"/>
</g>
</g>
<rect x="115.65" y="186.3" width="871.05" height="529.9" fill="none" stroke="#000" stroke-width="1.1"/>
<g class="tk">
<line x1="235" y1="169" x2="235" y2="186"/>
<line x1="417.5" y1="169" x2="417.5" y2="186"/>
<line x1="595" y1="169" x2="595" y2="186"/>
<line x1="778.3" y1="169" x2="778.3" y2="186"/>
<line x1="977.4" y1="169" x2="977.4" y2="186"/>
<line x1="287.4" y1="716" x2="287.4" y2="733.5"/>
<line x1="465" y1="716" x2="465" y2="733.5"/>
<line x1="642" y1="716" x2="642" y2="733.5"/>
<line x1="822.5" y1="716" x2="822.5" y2="733.5"/>
<line x1="98.7" y1="272.7" x2="115.5" y2="272.7"/>
<line x1="98.7" y1="371.5" x2="115.5" y2="371.5"/>
<line x1="98.7" y1="470.5" x2="115.5" y2="470.5"/>
<line x1="98.7" y1="569.5" x2="115.5" y2="569.5"/>
<line x1="98.7" y1="669.5" x2="115.5" y2="669.5"/>
<line x1="987" y1="233.6" x2="1004" y2="233.6"/>
<line x1="987" y1="336" x2="1004" y2="336"/>
<line x1="987" y1="438" x2="1004" y2="438"/>
<line x1="987" y1="539" x2="1004" y2="539"/>
<line x1="987" y1="640.5" x2="1004" y2="640.5"/>
</g>
<text x="285.9" y="761.9" class="tl" text-anchor="middle">110°W</text>
<text x="462.9" y="761.9" class="tl" text-anchor="middle">100°W</text>
<text x="641.2" y="761.9" class="tl" text-anchor="middle">90°W</text>
<text x="821.2" y="761.9" class="tl" text-anchor="middle">80°W</text>
<text x="80.3" y="282.5" class="tl" text-anchor="end">45°N</text>
<text x="80.3" y="381.3" class="tl" text-anchor="end">40°N</text>
<text x="80.3" y="480.3" class="tl" text-anchor="end">35°N</text>
<text x="80.3" y="579.3" class="tl" text-anchor="end">30°N</text>
<text x="80.3" y="679.3" class="tl" text-anchor="end">25°N</text>
<rect x="195.50" y="800" width="32.64" height="43" fill="#FFFFFF"/>
<rect x="227.84" y="800" width="32.64" height="43" fill="#E0F3FC"/>
<rect x="260.18" y="800" width="32.64" height="43" fill="#BEE6F8"/>
<rect x="292.52" y="800" width="32.64" height="43" fill="#9FD9F5"/>
<rect x="324.86" y="800" width="32.64" height="43" fill="#82C1E7"/>
<rect x="357.20" y="800" width="32.64" height="43" fill="#67A8DB"/>
<rect x="389.55" y="800" width="32.64" height="43" fill="#4A8CC8"/>
<rect x="421.89" y="800" width="32.64" height="43" fill="#4B9C9C"/>
<rect x="454.23" y="800" width="32.64" height="43" fill="#4AA873"/>
<rect x="486.57" y="800" width="32.64" height="43" fill="#4BB348"/>
<rect x="518.91" y="800" width="32.64" height="43" fill="#85C44D"/>
<rect x="551.25" y="800" width="32.64" height="43" fill="#C3D955"/>
<rect x="583.59" y="800" width="32.64" height="43" fill="#F8E85C"/>
<rect x="615.93" y="800" width="32.64" height="43" fill="#F8BF49"/>
<rect x="648.27" y="800" width="32.64" height="43" fill="#F79B3C"/>
<rect x="680.61" y="800" width="32.64" height="43" fill="#F36F2B"/>
<rect x="712.95" y="800" width="32.64" height="43" fill="#EA5529"/>
<rect x="745.30" y="800" width="32.64" height="43" fill="#E13D29"/>
<rect x="777.64" y="800" width="32.64" height="43" fill="#D6202A"/>
<rect x="809.98" y="800" width="32.64" height="43" fill="#BE1C26"/>
<rect x="842.32" y="800" width="32.64" height="43" fill="#AA1820"/>
<rect x="874.66" y="800" width="32.64" height="43" fill="#91141B"/>
<line x1="227.84" y1="800" x2="227.84" y2="843" stroke="#000" stroke-width="0.7"/>
<line x1="260.18" y1="800" x2="260.18" y2="843" stroke="#000" stroke-width="0.7"/>
<line x1="292.52" y1="800" x2="292.52" y2="843" stroke="#000" stroke-width="0.7"/>
<line x1="324.86" y1="800" x2="324.86" y2="843" stroke="#000" stroke-width="0.7"/>
<line x1="357.20" y1="800" x2="357.20" y2="843" stroke="#000" stroke-width="0.7"/>
<line x1="389.55" y1="800" x2="389.55" y2="843" stroke="#000" stroke-width="0.7"/>
<line x1="421.89" y1="800" x2="421.89" y2="843" stroke="#000" stroke-width="0.7"/>
<line x1="454.23" y1="800" x2="454.23" y2="843" stroke="#000" stroke-width="0.7"/>
<line x1="486.57" y1="800" x2="486.57" y2="843" stroke="#000" stroke-width="0.7"/>
<line x1="518.91" y1="800" x2="518.91" y2="843" stroke="#000" stroke-width="0.7"/>
<line x1="551.25" y1="800" x2="551.25" y2="843" stroke="#000" stroke-width="0.7"/>
<line x1="583.59" y1="800" x2="583.59" y2="843" stroke="#000" stroke-width="0.7"/>
<line x1="615.93" y1="800" x2="615.93" y2="843" stroke="#000" stroke-width="0.7"/>
<line x1="648.27" y1="800" x2="648.27" y2="843" stroke="#000" stroke-width="0.7"/>
<line x1="680.61" y1="800" x2="680.61" y2="843" stroke="#000" stroke-width="0.7"/>
<line x1="712.95" y1="800" x2="712.95" y2="843" stroke="#000" stroke-width="0.7"/>
<line x1="745.30" y1="800" x2="745.30" y2="843" stroke="#000" stroke-width="0.7"/>
<line x1="777.64" y1="800" x2="777.64" y2="843" stroke="#000" stroke-width="0.7"/>
<line x1="809.98" y1="800" x2="809.98" y2="843" stroke="#000" stroke-width="0.7"/>
<line x1="842.32" y1="800" x2="842.32" y2="843" stroke="#000" stroke-width="0.7"/>
<line x1="874.66" y1="800" x2="874.66" y2="843" stroke="#000" stroke-width="0.7"/>
<rect x="195.5" y="800" width="711.5" height="43" fill="none" stroke="#777" stroke-width="1"/>
<text x="227.84" y="869.7" class="cl">0</text>
<text x="260.18" y="869.7" class="cl">0.2</text>
<text x="292.52" y="869.7" class="cl">0.4</text>
<text x="324.86" y="869.7" class="cl">0.6</text>
<text x="357.20" y="869.7" class="cl">0.8</text>
<text x="389.55" y="869.7" class="cl">1</text>
<text x="421.89" y="869.7" class="cl">1.2</text>
<text x="454.23" y="869.7" class="cl">1.4</text>
<text x="486.57" y="869.7" class="cl">1.6</text>
<text x="518.91" y="869.7" class="cl">1.8</text>
<text x="551.25" y="869.7" class="cl">2</text>
<text x="583.59" y="869.7" class="cl">2.2</text>
<text x="615.93" y="869.7" class="cl">2.4</text>
<text x="648.27" y="869.7" class="cl">2.6</text>
<text x="680.61" y="869.7" class="cl">2.8</text>
<text x="712.95" y="869.7" class="cl">3</text>
<text x="745.30" y="869.7" class="cl">3.2</text>
<text x="777.64" y="869.7" class="cl">3.4</text>
<text x="809.98" y="869.7" class="cl">3.6</text>
<text x="842.32" y="869.7" class="cl">3.8</text>
<text x="874.66" y="869.7" class="cl">4</text>
</svg>
</body></html>
